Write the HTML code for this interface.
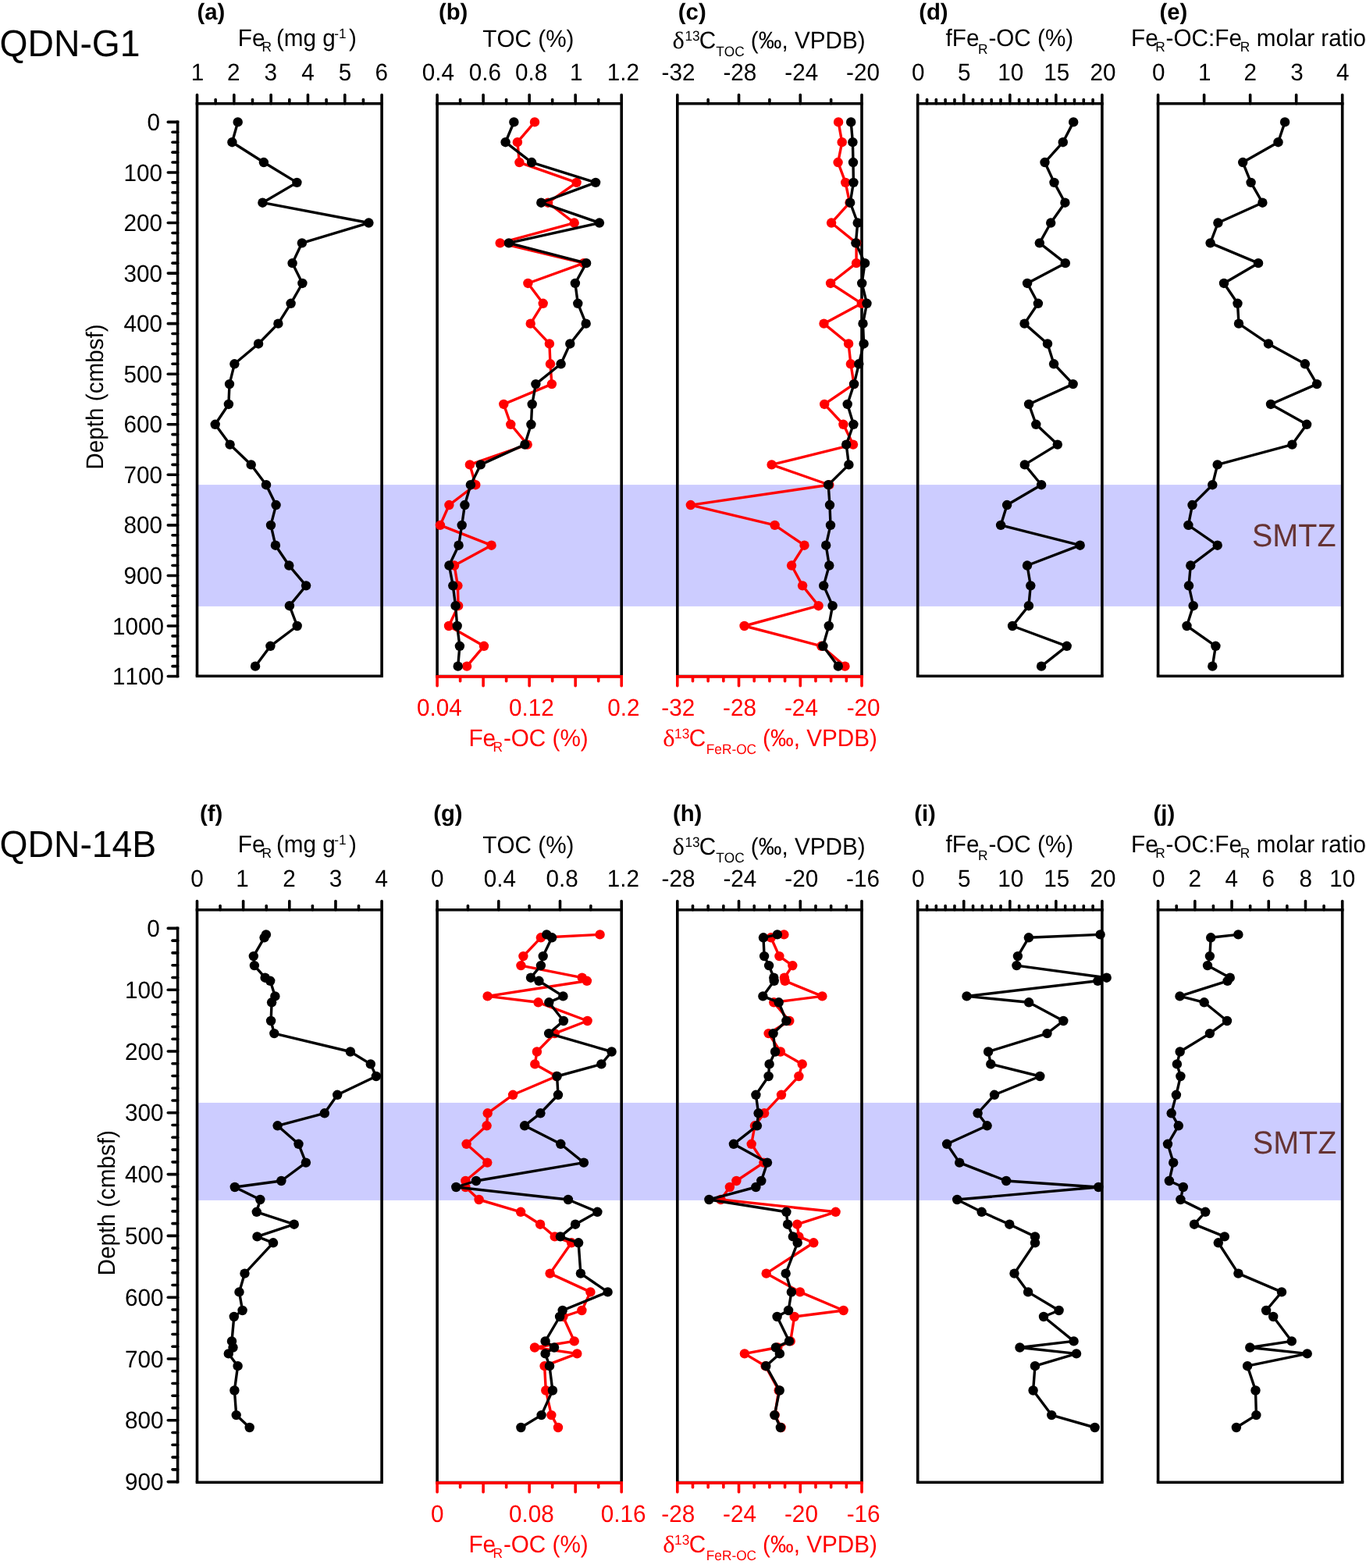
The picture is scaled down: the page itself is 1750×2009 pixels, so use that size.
<!DOCTYPE html><html><head><meta charset="utf-8"><title>QDN-G1 and QDN-14B profiles</title><style>html,body{margin:0;padding:0;background:#fff}svg{display:block}text{font-family:"Liberation Sans",Arial,sans-serif;font-kerning:none;text-rendering:geometricPrecision}</style></head><body>
<svg width="1750" height="2009" viewBox="0 0 1750 2009">
<rect x="0" y="0" width="1750" height="2009" fill="#fff"/>
<rect x="252.50" y="621.1" width="1467.20" height="155.8" fill="#ccccff"/>
<rect x="252.50" y="1412.9" width="1467.20" height="125.0" fill="#ccccff"/>
<text transform="translate(-0.49,72.00) scale(1.000,1.040)" font-size="46.30" fill="#000">QDN-G1</text>
<text transform="translate(-0.49,1097.60) scale(1.000,1.040)" font-size="46.30" fill="#000">QDN-14B</text>
<line x1="252.50" y1="132.80" x2="252.50" y2="866.20" stroke="#000" stroke-width="3.60" stroke-linecap="butt"/>
<line x1="489.10" y1="132.80" x2="489.10" y2="866.20" stroke="#000" stroke-width="3.60" stroke-linecap="butt"/>
<line x1="250.70" y1="132.80" x2="490.90" y2="132.80" stroke="#000" stroke-width="3.60" stroke-linecap="butt"/>
<line x1="250.70" y1="866.20" x2="490.90" y2="866.20" stroke="#000" stroke-width="3.60" stroke-linecap="butt"/>
<line x1="560.10" y1="132.80" x2="560.10" y2="866.20" stroke="#000" stroke-width="3.60" stroke-linecap="butt"/>
<line x1="796.20" y1="132.80" x2="796.20" y2="866.20" stroke="#000" stroke-width="3.60" stroke-linecap="butt"/>
<line x1="558.30" y1="132.80" x2="798.00" y2="132.80" stroke="#000" stroke-width="3.60" stroke-linecap="butt"/>
<line x1="558.30" y1="866.45" x2="798.00" y2="866.45" stroke="#000" stroke-width="3.60" stroke-linecap="butt"/>
<line x1="558.30" y1="866.90" x2="798.00" y2="866.90" stroke="#ff0000" stroke-width="3.60" stroke-linecap="butt"/>
<line x1="867.80" y1="132.80" x2="867.80" y2="866.20" stroke="#000" stroke-width="3.60" stroke-linecap="butt"/>
<line x1="1104.00" y1="132.80" x2="1104.00" y2="866.20" stroke="#000" stroke-width="3.60" stroke-linecap="butt"/>
<line x1="866.00" y1="132.80" x2="1105.80" y2="132.80" stroke="#000" stroke-width="3.60" stroke-linecap="butt"/>
<line x1="866.00" y1="866.45" x2="1105.80" y2="866.45" stroke="#000" stroke-width="3.60" stroke-linecap="butt"/>
<line x1="866.00" y1="866.90" x2="1105.80" y2="866.90" stroke="#ff0000" stroke-width="3.60" stroke-linecap="butt"/>
<line x1="1175.70" y1="132.80" x2="1175.70" y2="866.20" stroke="#000" stroke-width="3.60" stroke-linecap="butt"/>
<line x1="1411.90" y1="132.80" x2="1411.90" y2="866.20" stroke="#000" stroke-width="3.60" stroke-linecap="butt"/>
<line x1="1173.90" y1="132.80" x2="1413.70" y2="132.80" stroke="#000" stroke-width="3.60" stroke-linecap="butt"/>
<line x1="1173.90" y1="866.20" x2="1413.70" y2="866.20" stroke="#000" stroke-width="3.60" stroke-linecap="butt"/>
<line x1="1483.60" y1="132.80" x2="1483.60" y2="866.20" stroke="#000" stroke-width="3.60" stroke-linecap="butt"/>
<line x1="1719.70" y1="132.80" x2="1719.70" y2="866.20" stroke="#000" stroke-width="3.60" stroke-linecap="butt"/>
<line x1="1481.80" y1="132.80" x2="1721.50" y2="132.80" stroke="#000" stroke-width="3.60" stroke-linecap="butt"/>
<line x1="1481.80" y1="866.20" x2="1721.50" y2="866.20" stroke="#000" stroke-width="3.60" stroke-linecap="butt"/>
<line x1="252.50" y1="1165.80" x2="252.50" y2="1899.20" stroke="#000" stroke-width="3.60" stroke-linecap="butt"/>
<line x1="489.10" y1="1165.80" x2="489.10" y2="1899.20" stroke="#000" stroke-width="3.60" stroke-linecap="butt"/>
<line x1="250.70" y1="1165.80" x2="490.90" y2="1165.80" stroke="#000" stroke-width="3.60" stroke-linecap="butt"/>
<line x1="250.70" y1="1899.20" x2="490.90" y2="1899.20" stroke="#000" stroke-width="3.60" stroke-linecap="butt"/>
<line x1="560.10" y1="1165.80" x2="560.10" y2="1899.20" stroke="#000" stroke-width="3.60" stroke-linecap="butt"/>
<line x1="796.20" y1="1165.80" x2="796.20" y2="1899.20" stroke="#000" stroke-width="3.60" stroke-linecap="butt"/>
<line x1="558.30" y1="1165.80" x2="798.00" y2="1165.80" stroke="#000" stroke-width="3.60" stroke-linecap="butt"/>
<line x1="558.30" y1="1899.45" x2="798.00" y2="1899.45" stroke="#000" stroke-width="3.60" stroke-linecap="butt"/>
<line x1="558.30" y1="1899.90" x2="798.00" y2="1899.90" stroke="#ff0000" stroke-width="3.60" stroke-linecap="butt"/>
<line x1="867.80" y1="1165.80" x2="867.80" y2="1899.20" stroke="#000" stroke-width="3.60" stroke-linecap="butt"/>
<line x1="1104.00" y1="1165.80" x2="1104.00" y2="1899.20" stroke="#000" stroke-width="3.60" stroke-linecap="butt"/>
<line x1="866.00" y1="1165.80" x2="1105.80" y2="1165.80" stroke="#000" stroke-width="3.60" stroke-linecap="butt"/>
<line x1="866.00" y1="1899.45" x2="1105.80" y2="1899.45" stroke="#000" stroke-width="3.60" stroke-linecap="butt"/>
<line x1="866.00" y1="1899.90" x2="1105.80" y2="1899.90" stroke="#ff0000" stroke-width="3.60" stroke-linecap="butt"/>
<line x1="1175.70" y1="1165.80" x2="1175.70" y2="1899.20" stroke="#000" stroke-width="3.60" stroke-linecap="butt"/>
<line x1="1411.90" y1="1165.80" x2="1411.90" y2="1899.20" stroke="#000" stroke-width="3.60" stroke-linecap="butt"/>
<line x1="1173.90" y1="1165.80" x2="1413.70" y2="1165.80" stroke="#000" stroke-width="3.60" stroke-linecap="butt"/>
<line x1="1173.90" y1="1899.20" x2="1413.70" y2="1899.20" stroke="#000" stroke-width="3.60" stroke-linecap="butt"/>
<line x1="1483.60" y1="1165.80" x2="1483.60" y2="1899.20" stroke="#000" stroke-width="3.60" stroke-linecap="butt"/>
<line x1="1719.70" y1="1165.80" x2="1719.70" y2="1899.20" stroke="#000" stroke-width="3.60" stroke-linecap="butt"/>
<line x1="1481.80" y1="1165.80" x2="1721.50" y2="1165.80" stroke="#000" stroke-width="3.60" stroke-linecap="butt"/>
<line x1="1481.80" y1="1899.20" x2="1721.50" y2="1899.20" stroke="#000" stroke-width="3.60" stroke-linecap="butt"/>
<line x1="227.60" y1="154.60" x2="227.60" y2="868.36" stroke="#000" stroke-width="3.60" stroke-linecap="butt"/>
<line x1="215.30" y1="156.40" x2="227.60" y2="156.40" stroke="#000" stroke-width="3.60" stroke-linecap="round"/>
<text transform="translate(188.44,167.00) scale(1.000,1.040)" font-size="29.70" fill="#000">0</text>
<line x1="221.00" y1="169.31" x2="227.60" y2="169.31" stroke="#000" stroke-width="3.60" stroke-linecap="round"/>
<line x1="221.00" y1="182.22" x2="227.60" y2="182.22" stroke="#000" stroke-width="3.60" stroke-linecap="round"/>
<line x1="221.00" y1="195.14" x2="227.60" y2="195.14" stroke="#000" stroke-width="3.60" stroke-linecap="round"/>
<line x1="221.00" y1="208.05" x2="227.60" y2="208.05" stroke="#000" stroke-width="3.60" stroke-linecap="round"/>
<line x1="215.30" y1="220.96" x2="227.60" y2="220.96" stroke="#000" stroke-width="3.60" stroke-linecap="round"/>
<text transform="translate(158.51,231.56) scale(1.000,1.040)" font-size="29.70" fill="#000">100</text>
<line x1="221.00" y1="233.87" x2="227.60" y2="233.87" stroke="#000" stroke-width="3.60" stroke-linecap="round"/>
<line x1="221.00" y1="246.78" x2="227.60" y2="246.78" stroke="#000" stroke-width="3.60" stroke-linecap="round"/>
<line x1="221.00" y1="259.70" x2="227.60" y2="259.70" stroke="#000" stroke-width="3.60" stroke-linecap="round"/>
<line x1="221.00" y1="272.61" x2="227.60" y2="272.61" stroke="#000" stroke-width="3.60" stroke-linecap="round"/>
<line x1="215.30" y1="285.52" x2="227.60" y2="285.52" stroke="#000" stroke-width="3.60" stroke-linecap="round"/>
<text transform="translate(158.51,296.12) scale(1.000,1.040)" font-size="29.70" fill="#000">200</text>
<line x1="221.00" y1="298.43" x2="227.60" y2="298.43" stroke="#000" stroke-width="3.60" stroke-linecap="round"/>
<line x1="221.00" y1="311.34" x2="227.60" y2="311.34" stroke="#000" stroke-width="3.60" stroke-linecap="round"/>
<line x1="221.00" y1="324.26" x2="227.60" y2="324.26" stroke="#000" stroke-width="3.60" stroke-linecap="round"/>
<line x1="221.00" y1="337.17" x2="227.60" y2="337.17" stroke="#000" stroke-width="3.60" stroke-linecap="round"/>
<line x1="215.30" y1="350.08" x2="227.60" y2="350.08" stroke="#000" stroke-width="3.60" stroke-linecap="round"/>
<text transform="translate(158.51,360.68) scale(1.000,1.040)" font-size="29.70" fill="#000">300</text>
<line x1="221.00" y1="362.99" x2="227.60" y2="362.99" stroke="#000" stroke-width="3.60" stroke-linecap="round"/>
<line x1="221.00" y1="375.90" x2="227.60" y2="375.90" stroke="#000" stroke-width="3.60" stroke-linecap="round"/>
<line x1="221.00" y1="388.82" x2="227.60" y2="388.82" stroke="#000" stroke-width="3.60" stroke-linecap="round"/>
<line x1="221.00" y1="401.73" x2="227.60" y2="401.73" stroke="#000" stroke-width="3.60" stroke-linecap="round"/>
<line x1="215.30" y1="414.64" x2="227.60" y2="414.64" stroke="#000" stroke-width="3.60" stroke-linecap="round"/>
<text transform="translate(158.51,425.24) scale(1.000,1.040)" font-size="29.70" fill="#000">400</text>
<line x1="221.00" y1="427.55" x2="227.60" y2="427.55" stroke="#000" stroke-width="3.60" stroke-linecap="round"/>
<line x1="221.00" y1="440.46" x2="227.60" y2="440.46" stroke="#000" stroke-width="3.60" stroke-linecap="round"/>
<line x1="221.00" y1="453.38" x2="227.60" y2="453.38" stroke="#000" stroke-width="3.60" stroke-linecap="round"/>
<line x1="221.00" y1="466.29" x2="227.60" y2="466.29" stroke="#000" stroke-width="3.60" stroke-linecap="round"/>
<line x1="215.30" y1="479.20" x2="227.60" y2="479.20" stroke="#000" stroke-width="3.60" stroke-linecap="round"/>
<text transform="translate(158.51,489.80) scale(1.000,1.040)" font-size="29.70" fill="#000">500</text>
<line x1="221.00" y1="492.11" x2="227.60" y2="492.11" stroke="#000" stroke-width="3.60" stroke-linecap="round"/>
<line x1="221.00" y1="505.02" x2="227.60" y2="505.02" stroke="#000" stroke-width="3.60" stroke-linecap="round"/>
<line x1="221.00" y1="517.94" x2="227.60" y2="517.94" stroke="#000" stroke-width="3.60" stroke-linecap="round"/>
<line x1="221.00" y1="530.85" x2="227.60" y2="530.85" stroke="#000" stroke-width="3.60" stroke-linecap="round"/>
<line x1="215.30" y1="543.76" x2="227.60" y2="543.76" stroke="#000" stroke-width="3.60" stroke-linecap="round"/>
<text transform="translate(158.51,554.36) scale(1.000,1.040)" font-size="29.70" fill="#000">600</text>
<line x1="221.00" y1="556.67" x2="227.60" y2="556.67" stroke="#000" stroke-width="3.60" stroke-linecap="round"/>
<line x1="221.00" y1="569.58" x2="227.60" y2="569.58" stroke="#000" stroke-width="3.60" stroke-linecap="round"/>
<line x1="221.00" y1="582.50" x2="227.60" y2="582.50" stroke="#000" stroke-width="3.60" stroke-linecap="round"/>
<line x1="221.00" y1="595.41" x2="227.60" y2="595.41" stroke="#000" stroke-width="3.60" stroke-linecap="round"/>
<line x1="215.30" y1="608.32" x2="227.60" y2="608.32" stroke="#000" stroke-width="3.60" stroke-linecap="round"/>
<text transform="translate(158.51,618.92) scale(1.000,1.040)" font-size="29.70" fill="#000">700</text>
<line x1="221.00" y1="621.23" x2="227.60" y2="621.23" stroke="#000" stroke-width="3.60" stroke-linecap="round"/>
<line x1="221.00" y1="634.14" x2="227.60" y2="634.14" stroke="#000" stroke-width="3.60" stroke-linecap="round"/>
<line x1="221.00" y1="647.06" x2="227.60" y2="647.06" stroke="#000" stroke-width="3.60" stroke-linecap="round"/>
<line x1="221.00" y1="659.97" x2="227.60" y2="659.97" stroke="#000" stroke-width="3.60" stroke-linecap="round"/>
<line x1="215.30" y1="672.88" x2="227.60" y2="672.88" stroke="#000" stroke-width="3.60" stroke-linecap="round"/>
<text transform="translate(158.51,683.48) scale(1.000,1.040)" font-size="29.70" fill="#000">800</text>
<line x1="221.00" y1="685.79" x2="227.60" y2="685.79" stroke="#000" stroke-width="3.60" stroke-linecap="round"/>
<line x1="221.00" y1="698.70" x2="227.60" y2="698.70" stroke="#000" stroke-width="3.60" stroke-linecap="round"/>
<line x1="221.00" y1="711.62" x2="227.60" y2="711.62" stroke="#000" stroke-width="3.60" stroke-linecap="round"/>
<line x1="221.00" y1="724.53" x2="227.60" y2="724.53" stroke="#000" stroke-width="3.60" stroke-linecap="round"/>
<line x1="215.30" y1="737.44" x2="227.60" y2="737.44" stroke="#000" stroke-width="3.60" stroke-linecap="round"/>
<text transform="translate(158.51,748.04) scale(1.000,1.040)" font-size="29.70" fill="#000">900</text>
<line x1="221.00" y1="750.35" x2="227.60" y2="750.35" stroke="#000" stroke-width="3.60" stroke-linecap="round"/>
<line x1="221.00" y1="763.26" x2="227.60" y2="763.26" stroke="#000" stroke-width="3.60" stroke-linecap="round"/>
<line x1="221.00" y1="776.18" x2="227.60" y2="776.18" stroke="#000" stroke-width="3.60" stroke-linecap="round"/>
<line x1="221.00" y1="789.09" x2="227.60" y2="789.09" stroke="#000" stroke-width="3.60" stroke-linecap="round"/>
<line x1="215.30" y1="802.00" x2="227.60" y2="802.00" stroke="#000" stroke-width="3.60" stroke-linecap="round"/>
<text transform="translate(143.99,812.60) scale(1.000,1.040)" font-size="29.70" fill="#000">1000</text>
<line x1="221.00" y1="814.91" x2="227.60" y2="814.91" stroke="#000" stroke-width="3.60" stroke-linecap="round"/>
<line x1="221.00" y1="827.82" x2="227.60" y2="827.82" stroke="#000" stroke-width="3.60" stroke-linecap="round"/>
<line x1="221.00" y1="840.74" x2="227.60" y2="840.74" stroke="#000" stroke-width="3.60" stroke-linecap="round"/>
<line x1="221.00" y1="853.65" x2="227.60" y2="853.65" stroke="#000" stroke-width="3.60" stroke-linecap="round"/>
<line x1="215.30" y1="866.56" x2="227.60" y2="866.56" stroke="#000" stroke-width="3.60" stroke-linecap="round"/>
<text transform="translate(143.99,877.16) scale(1.000,1.040)" font-size="29.70" fill="#000">1100</text>
<line x1="227.60" y1="1187.60" x2="227.60" y2="1900.40" stroke="#000" stroke-width="3.60" stroke-linecap="butt"/>
<line x1="215.30" y1="1189.40" x2="227.60" y2="1189.40" stroke="#000" stroke-width="3.60" stroke-linecap="round"/>
<text transform="translate(188.24,1200.00) scale(1.000,1.040)" font-size="29.70" fill="#000">0</text>
<line x1="221.00" y1="1205.16" x2="227.60" y2="1205.16" stroke="#000" stroke-width="3.60" stroke-linecap="round"/>
<line x1="221.00" y1="1220.92" x2="227.60" y2="1220.92" stroke="#000" stroke-width="3.60" stroke-linecap="round"/>
<line x1="221.00" y1="1236.68" x2="227.60" y2="1236.68" stroke="#000" stroke-width="3.60" stroke-linecap="round"/>
<line x1="221.00" y1="1252.44" x2="227.60" y2="1252.44" stroke="#000" stroke-width="3.60" stroke-linecap="round"/>
<line x1="215.30" y1="1268.20" x2="227.60" y2="1268.20" stroke="#000" stroke-width="3.60" stroke-linecap="round"/>
<text transform="translate(159.91,1278.80) scale(1.000,1.040)" font-size="29.70" fill="#000">100</text>
<line x1="221.00" y1="1283.96" x2="227.60" y2="1283.96" stroke="#000" stroke-width="3.60" stroke-linecap="round"/>
<line x1="221.00" y1="1299.72" x2="227.60" y2="1299.72" stroke="#000" stroke-width="3.60" stroke-linecap="round"/>
<line x1="221.00" y1="1315.48" x2="227.60" y2="1315.48" stroke="#000" stroke-width="3.60" stroke-linecap="round"/>
<line x1="221.00" y1="1331.24" x2="227.60" y2="1331.24" stroke="#000" stroke-width="3.60" stroke-linecap="round"/>
<line x1="215.30" y1="1347.00" x2="227.60" y2="1347.00" stroke="#000" stroke-width="3.60" stroke-linecap="round"/>
<text transform="translate(159.91,1357.60) scale(1.000,1.040)" font-size="29.70" fill="#000">200</text>
<line x1="221.00" y1="1362.76" x2="227.60" y2="1362.76" stroke="#000" stroke-width="3.60" stroke-linecap="round"/>
<line x1="221.00" y1="1378.52" x2="227.60" y2="1378.52" stroke="#000" stroke-width="3.60" stroke-linecap="round"/>
<line x1="221.00" y1="1394.28" x2="227.60" y2="1394.28" stroke="#000" stroke-width="3.60" stroke-linecap="round"/>
<line x1="221.00" y1="1410.04" x2="227.60" y2="1410.04" stroke="#000" stroke-width="3.60" stroke-linecap="round"/>
<line x1="215.30" y1="1425.80" x2="227.60" y2="1425.80" stroke="#000" stroke-width="3.60" stroke-linecap="round"/>
<text transform="translate(159.91,1436.40) scale(1.000,1.040)" font-size="29.70" fill="#000">300</text>
<line x1="221.00" y1="1441.56" x2="227.60" y2="1441.56" stroke="#000" stroke-width="3.60" stroke-linecap="round"/>
<line x1="221.00" y1="1457.32" x2="227.60" y2="1457.32" stroke="#000" stroke-width="3.60" stroke-linecap="round"/>
<line x1="221.00" y1="1473.08" x2="227.60" y2="1473.08" stroke="#000" stroke-width="3.60" stroke-linecap="round"/>
<line x1="221.00" y1="1488.84" x2="227.60" y2="1488.84" stroke="#000" stroke-width="3.60" stroke-linecap="round"/>
<line x1="215.30" y1="1504.60" x2="227.60" y2="1504.60" stroke="#000" stroke-width="3.60" stroke-linecap="round"/>
<text transform="translate(159.91,1515.20) scale(1.000,1.040)" font-size="29.70" fill="#000">400</text>
<line x1="221.00" y1="1520.36" x2="227.60" y2="1520.36" stroke="#000" stroke-width="3.60" stroke-linecap="round"/>
<line x1="221.00" y1="1536.12" x2="227.60" y2="1536.12" stroke="#000" stroke-width="3.60" stroke-linecap="round"/>
<line x1="221.00" y1="1551.88" x2="227.60" y2="1551.88" stroke="#000" stroke-width="3.60" stroke-linecap="round"/>
<line x1="221.00" y1="1567.64" x2="227.60" y2="1567.64" stroke="#000" stroke-width="3.60" stroke-linecap="round"/>
<line x1="215.30" y1="1583.40" x2="227.60" y2="1583.40" stroke="#000" stroke-width="3.60" stroke-linecap="round"/>
<text transform="translate(159.91,1594.00) scale(1.000,1.040)" font-size="29.70" fill="#000">500</text>
<line x1="221.00" y1="1599.16" x2="227.60" y2="1599.16" stroke="#000" stroke-width="3.60" stroke-linecap="round"/>
<line x1="221.00" y1="1614.92" x2="227.60" y2="1614.92" stroke="#000" stroke-width="3.60" stroke-linecap="round"/>
<line x1="221.00" y1="1630.68" x2="227.60" y2="1630.68" stroke="#000" stroke-width="3.60" stroke-linecap="round"/>
<line x1="221.00" y1="1646.44" x2="227.60" y2="1646.44" stroke="#000" stroke-width="3.60" stroke-linecap="round"/>
<line x1="215.30" y1="1662.20" x2="227.60" y2="1662.20" stroke="#000" stroke-width="3.60" stroke-linecap="round"/>
<text transform="translate(159.91,1672.80) scale(1.000,1.040)" font-size="29.70" fill="#000">600</text>
<line x1="221.00" y1="1677.96" x2="227.60" y2="1677.96" stroke="#000" stroke-width="3.60" stroke-linecap="round"/>
<line x1="221.00" y1="1693.72" x2="227.60" y2="1693.72" stroke="#000" stroke-width="3.60" stroke-linecap="round"/>
<line x1="221.00" y1="1709.48" x2="227.60" y2="1709.48" stroke="#000" stroke-width="3.60" stroke-linecap="round"/>
<line x1="221.00" y1="1725.24" x2="227.60" y2="1725.24" stroke="#000" stroke-width="3.60" stroke-linecap="round"/>
<line x1="215.30" y1="1741.00" x2="227.60" y2="1741.00" stroke="#000" stroke-width="3.60" stroke-linecap="round"/>
<text transform="translate(159.91,1751.60) scale(1.000,1.040)" font-size="29.70" fill="#000">700</text>
<line x1="221.00" y1="1756.76" x2="227.60" y2="1756.76" stroke="#000" stroke-width="3.60" stroke-linecap="round"/>
<line x1="221.00" y1="1772.52" x2="227.60" y2="1772.52" stroke="#000" stroke-width="3.60" stroke-linecap="round"/>
<line x1="221.00" y1="1788.28" x2="227.60" y2="1788.28" stroke="#000" stroke-width="3.60" stroke-linecap="round"/>
<line x1="221.00" y1="1804.04" x2="227.60" y2="1804.04" stroke="#000" stroke-width="3.60" stroke-linecap="round"/>
<line x1="215.30" y1="1819.80" x2="227.60" y2="1819.80" stroke="#000" stroke-width="3.60" stroke-linecap="round"/>
<text transform="translate(159.91,1830.40) scale(1.000,1.040)" font-size="29.70" fill="#000">800</text>
<line x1="221.00" y1="1835.56" x2="227.60" y2="1835.56" stroke="#000" stroke-width="3.60" stroke-linecap="round"/>
<line x1="221.00" y1="1851.32" x2="227.60" y2="1851.32" stroke="#000" stroke-width="3.60" stroke-linecap="round"/>
<line x1="221.00" y1="1867.08" x2="227.60" y2="1867.08" stroke="#000" stroke-width="3.60" stroke-linecap="round"/>
<line x1="221.00" y1="1882.84" x2="227.60" y2="1882.84" stroke="#000" stroke-width="3.60" stroke-linecap="round"/>
<line x1="215.30" y1="1898.60" x2="227.60" y2="1898.60" stroke="#000" stroke-width="3.60" stroke-linecap="round"/>
<text transform="translate(159.91,1909.20) scale(1.000,1.040)" font-size="29.70" fill="#000">900</text>
<text transform="translate(131.7,508.5) rotate(-90) scale(1,1.040)" text-anchor="middle" font-size="29.70">Depth (cmbsf)</text>
<text transform="translate(146.8,1541.3) rotate(-90) scale(1,1.040)" text-anchor="middle" font-size="29.70">Depth (cmbsf)</text>
<line x1="252.50" y1="132.80" x2="252.50" y2="121.50" stroke="#000" stroke-width="3.60" stroke-linecap="round"/>
<line x1="276.16" y1="132.80" x2="276.16" y2="127.50" stroke="#000" stroke-width="3.60" stroke-linecap="round"/>
<line x1="299.82" y1="132.80" x2="299.82" y2="121.50" stroke="#000" stroke-width="3.60" stroke-linecap="round"/>
<line x1="323.48" y1="132.80" x2="323.48" y2="127.50" stroke="#000" stroke-width="3.60" stroke-linecap="round"/>
<line x1="347.14" y1="132.80" x2="347.14" y2="121.50" stroke="#000" stroke-width="3.60" stroke-linecap="round"/>
<line x1="370.80" y1="132.80" x2="370.80" y2="127.50" stroke="#000" stroke-width="3.60" stroke-linecap="round"/>
<line x1="394.46" y1="132.80" x2="394.46" y2="121.50" stroke="#000" stroke-width="3.60" stroke-linecap="round"/>
<line x1="418.12" y1="132.80" x2="418.12" y2="127.50" stroke="#000" stroke-width="3.60" stroke-linecap="round"/>
<line x1="441.78" y1="132.80" x2="441.78" y2="121.50" stroke="#000" stroke-width="3.60" stroke-linecap="round"/>
<line x1="465.44" y1="132.80" x2="465.44" y2="127.50" stroke="#000" stroke-width="3.60" stroke-linecap="round"/>
<line x1="489.10" y1="132.80" x2="489.10" y2="121.50" stroke="#000" stroke-width="3.60" stroke-linecap="round"/>
<text transform="translate(244.76,102.90) scale(1.000,1.040)" font-size="29.70" fill="#000">1</text>
<text transform="translate(291.11,102.90) scale(1.000,1.040)" font-size="29.70" fill="#000">2</text>
<text transform="translate(338.57,102.90) scale(1.000,1.040)" font-size="29.70" fill="#000">3</text>
<text transform="translate(386.22,102.90) scale(1.000,1.040)" font-size="29.70" fill="#000">4</text>
<text transform="translate(433.71,102.90) scale(1.000,1.040)" font-size="29.70" fill="#000">5</text>
<text transform="translate(480.49,102.90) scale(1.000,1.040)" font-size="29.70" fill="#000">6</text>
<line x1="560.10" y1="132.80" x2="560.10" y2="121.50" stroke="#000" stroke-width="3.60" stroke-linecap="round"/>
<line x1="589.61" y1="132.80" x2="589.61" y2="127.50" stroke="#000" stroke-width="3.60" stroke-linecap="round"/>
<line x1="619.12" y1="132.80" x2="619.12" y2="121.50" stroke="#000" stroke-width="3.60" stroke-linecap="round"/>
<line x1="648.64" y1="132.80" x2="648.64" y2="127.50" stroke="#000" stroke-width="3.60" stroke-linecap="round"/>
<line x1="678.15" y1="132.80" x2="678.15" y2="121.50" stroke="#000" stroke-width="3.60" stroke-linecap="round"/>
<line x1="707.66" y1="132.80" x2="707.66" y2="127.50" stroke="#000" stroke-width="3.60" stroke-linecap="round"/>
<line x1="737.17" y1="132.80" x2="737.17" y2="121.50" stroke="#000" stroke-width="3.60" stroke-linecap="round"/>
<line x1="766.69" y1="132.80" x2="766.69" y2="127.50" stroke="#000" stroke-width="3.60" stroke-linecap="round"/>
<line x1="796.20" y1="132.80" x2="796.20" y2="121.50" stroke="#000" stroke-width="3.60" stroke-linecap="round"/>
<text transform="translate(540.84,102.90) scale(1.000,1.040)" font-size="29.70" fill="#000">0.4</text>
<text transform="translate(600.84,102.90) scale(1.000,1.040)" font-size="29.70" fill="#000">0.6</text>
<text transform="translate(659.94,102.90) scale(1.000,1.040)" font-size="29.70" fill="#000">0.8</text>
<text transform="translate(729.96,102.90) scale(1.000,1.040)" font-size="29.70" fill="#000">1</text>
<text transform="translate(777.86,102.90) scale(1.000,1.040)" font-size="29.70" fill="#000">1.2</text>
<line x1="867.80" y1="132.80" x2="867.80" y2="121.50" stroke="#000" stroke-width="3.60" stroke-linecap="round"/>
<line x1="907.17" y1="132.80" x2="907.17" y2="127.50" stroke="#000" stroke-width="3.60" stroke-linecap="round"/>
<line x1="946.53" y1="132.80" x2="946.53" y2="121.50" stroke="#000" stroke-width="3.60" stroke-linecap="round"/>
<line x1="985.90" y1="132.80" x2="985.90" y2="127.50" stroke="#000" stroke-width="3.60" stroke-linecap="round"/>
<line x1="1025.27" y1="132.80" x2="1025.27" y2="121.50" stroke="#000" stroke-width="3.60" stroke-linecap="round"/>
<line x1="1064.63" y1="132.80" x2="1064.63" y2="127.50" stroke="#000" stroke-width="3.60" stroke-linecap="round"/>
<line x1="1104.00" y1="132.80" x2="1104.00" y2="121.50" stroke="#000" stroke-width="3.60" stroke-linecap="round"/>
<text transform="translate(847.58,102.90) scale(1.000,1.040)" font-size="29.70" fill="#000">-32</text>
<text transform="translate(926.38,102.90) scale(1.000,1.040)" font-size="29.70" fill="#000">-28</text>
<text transform="translate(1005.28,102.90) scale(1.000,1.040)" font-size="29.70" fill="#000">-24</text>
<text transform="translate(1084.08,102.90) scale(1.000,1.040)" font-size="29.70" fill="#000">-20</text>
<line x1="1175.70" y1="132.80" x2="1175.70" y2="121.50" stroke="#000" stroke-width="3.60" stroke-linecap="round"/>
<line x1="1187.51" y1="132.80" x2="1187.51" y2="127.50" stroke="#000" stroke-width="3.60" stroke-linecap="round"/>
<line x1="1199.32" y1="132.80" x2="1199.32" y2="127.50" stroke="#000" stroke-width="3.60" stroke-linecap="round"/>
<line x1="1211.13" y1="132.80" x2="1211.13" y2="127.50" stroke="#000" stroke-width="3.60" stroke-linecap="round"/>
<line x1="1222.94" y1="132.80" x2="1222.94" y2="127.50" stroke="#000" stroke-width="3.60" stroke-linecap="round"/>
<line x1="1234.75" y1="132.80" x2="1234.75" y2="121.50" stroke="#000" stroke-width="3.60" stroke-linecap="round"/>
<line x1="1246.56" y1="132.80" x2="1246.56" y2="127.50" stroke="#000" stroke-width="3.60" stroke-linecap="round"/>
<line x1="1258.37" y1="132.80" x2="1258.37" y2="127.50" stroke="#000" stroke-width="3.60" stroke-linecap="round"/>
<line x1="1270.18" y1="132.80" x2="1270.18" y2="127.50" stroke="#000" stroke-width="3.60" stroke-linecap="round"/>
<line x1="1281.99" y1="132.80" x2="1281.99" y2="127.50" stroke="#000" stroke-width="3.60" stroke-linecap="round"/>
<line x1="1293.80" y1="132.80" x2="1293.80" y2="121.50" stroke="#000" stroke-width="3.60" stroke-linecap="round"/>
<line x1="1305.61" y1="132.80" x2="1305.61" y2="127.50" stroke="#000" stroke-width="3.60" stroke-linecap="round"/>
<line x1="1317.42" y1="132.80" x2="1317.42" y2="127.50" stroke="#000" stroke-width="3.60" stroke-linecap="round"/>
<line x1="1329.23" y1="132.80" x2="1329.23" y2="127.50" stroke="#000" stroke-width="3.60" stroke-linecap="round"/>
<line x1="1341.04" y1="132.80" x2="1341.04" y2="127.50" stroke="#000" stroke-width="3.60" stroke-linecap="round"/>
<line x1="1352.85" y1="132.80" x2="1352.85" y2="121.50" stroke="#000" stroke-width="3.60" stroke-linecap="round"/>
<line x1="1364.66" y1="132.80" x2="1364.66" y2="127.50" stroke="#000" stroke-width="3.60" stroke-linecap="round"/>
<line x1="1376.47" y1="132.80" x2="1376.47" y2="127.50" stroke="#000" stroke-width="3.60" stroke-linecap="round"/>
<line x1="1388.28" y1="132.80" x2="1388.28" y2="127.50" stroke="#000" stroke-width="3.60" stroke-linecap="round"/>
<line x1="1400.09" y1="132.80" x2="1400.09" y2="127.50" stroke="#000" stroke-width="3.60" stroke-linecap="round"/>
<line x1="1411.90" y1="132.80" x2="1411.90" y2="121.50" stroke="#000" stroke-width="3.60" stroke-linecap="round"/>
<text transform="translate(1167.94,102.90) scale(1.000,1.040)" font-size="29.70" fill="#000">0</text>
<text transform="translate(1227.11,102.90) scale(1.000,1.040)" font-size="29.70" fill="#000">5</text>
<text transform="translate(1278.16,102.90) scale(1.000,1.040)" font-size="29.70" fill="#000">10</text>
<text transform="translate(1337.36,102.90) scale(1.000,1.040)" font-size="29.70" fill="#000">15</text>
<text transform="translate(1396.51,102.90) scale(1.000,1.040)" font-size="29.70" fill="#000">20</text>
<line x1="1483.60" y1="132.80" x2="1483.60" y2="121.50" stroke="#000" stroke-width="3.60" stroke-linecap="round"/>
<line x1="1542.62" y1="132.80" x2="1542.62" y2="121.50" stroke="#000" stroke-width="3.60" stroke-linecap="round"/>
<line x1="1601.65" y1="132.80" x2="1601.65" y2="121.50" stroke="#000" stroke-width="3.60" stroke-linecap="round"/>
<line x1="1660.67" y1="132.80" x2="1660.67" y2="121.50" stroke="#000" stroke-width="3.60" stroke-linecap="round"/>
<line x1="1719.70" y1="132.80" x2="1719.70" y2="121.50" stroke="#000" stroke-width="3.60" stroke-linecap="round"/>
<text transform="translate(1476.04,102.90) scale(1.000,1.040)" font-size="29.70" fill="#000">0</text>
<text transform="translate(1535.06,102.90) scale(1.000,1.040)" font-size="29.70" fill="#000">1</text>
<text transform="translate(1593.51,102.90) scale(1.000,1.040)" font-size="29.70" fill="#000">2</text>
<text transform="translate(1653.27,102.90) scale(1.000,1.040)" font-size="29.70" fill="#000">3</text>
<text transform="translate(1712.12,102.90) scale(1.000,1.040)" font-size="29.70" fill="#000">4</text>
<line x1="560.10" y1="866.90" x2="560.10" y2="878.70" stroke="#ff0000" stroke-width="3.60" stroke-linecap="round"/>
<line x1="589.61" y1="866.90" x2="589.61" y2="872.70" stroke="#ff0000" stroke-width="3.60" stroke-linecap="round"/>
<line x1="619.12" y1="866.90" x2="619.12" y2="878.70" stroke="#ff0000" stroke-width="3.60" stroke-linecap="round"/>
<line x1="648.64" y1="866.90" x2="648.64" y2="872.70" stroke="#ff0000" stroke-width="3.60" stroke-linecap="round"/>
<line x1="678.15" y1="866.90" x2="678.15" y2="878.70" stroke="#ff0000" stroke-width="3.60" stroke-linecap="round"/>
<line x1="707.66" y1="866.90" x2="707.66" y2="872.70" stroke="#ff0000" stroke-width="3.60" stroke-linecap="round"/>
<line x1="737.17" y1="866.90" x2="737.17" y2="878.70" stroke="#ff0000" stroke-width="3.60" stroke-linecap="round"/>
<line x1="766.69" y1="866.90" x2="766.69" y2="872.70" stroke="#ff0000" stroke-width="3.60" stroke-linecap="round"/>
<line x1="796.20" y1="866.90" x2="796.20" y2="878.70" stroke="#ff0000" stroke-width="3.60" stroke-linecap="round"/>
<text transform="translate(533.94,917.10) scale(1.000,1.040)" font-size="29.70" fill="#ff0000">0.04</text>
<text transform="translate(651.94,917.10) scale(1.000,1.040)" font-size="29.70" fill="#ff0000">0.12</text>
<text transform="translate(778.24,917.10) scale(1.000,1.040)" font-size="29.70" fill="#ff0000">0.2</text>
<line x1="867.80" y1="866.90" x2="867.80" y2="878.70" stroke="#ff0000" stroke-width="3.60" stroke-linecap="round"/>
<line x1="887.48" y1="866.90" x2="887.48" y2="872.70" stroke="#ff0000" stroke-width="3.60" stroke-linecap="round"/>
<line x1="907.17" y1="866.90" x2="907.17" y2="872.70" stroke="#ff0000" stroke-width="3.60" stroke-linecap="round"/>
<line x1="926.85" y1="866.90" x2="926.85" y2="872.70" stroke="#ff0000" stroke-width="3.60" stroke-linecap="round"/>
<line x1="946.53" y1="866.90" x2="946.53" y2="878.70" stroke="#ff0000" stroke-width="3.60" stroke-linecap="round"/>
<line x1="966.22" y1="866.90" x2="966.22" y2="872.70" stroke="#ff0000" stroke-width="3.60" stroke-linecap="round"/>
<line x1="985.90" y1="866.90" x2="985.90" y2="872.70" stroke="#ff0000" stroke-width="3.60" stroke-linecap="round"/>
<line x1="1005.58" y1="866.90" x2="1005.58" y2="872.70" stroke="#ff0000" stroke-width="3.60" stroke-linecap="round"/>
<line x1="1025.27" y1="866.90" x2="1025.27" y2="878.70" stroke="#ff0000" stroke-width="3.60" stroke-linecap="round"/>
<line x1="1044.95" y1="866.90" x2="1044.95" y2="872.70" stroke="#ff0000" stroke-width="3.60" stroke-linecap="round"/>
<line x1="1064.63" y1="866.90" x2="1064.63" y2="872.70" stroke="#ff0000" stroke-width="3.60" stroke-linecap="round"/>
<line x1="1084.32" y1="866.90" x2="1084.32" y2="872.70" stroke="#ff0000" stroke-width="3.60" stroke-linecap="round"/>
<line x1="1104.00" y1="866.90" x2="1104.00" y2="878.70" stroke="#ff0000" stroke-width="3.60" stroke-linecap="round"/>
<text transform="translate(847.28,917.10) scale(1.000,1.040)" font-size="29.70" fill="#ff0000">-32</text>
<text transform="translate(926.08,917.10) scale(1.000,1.040)" font-size="29.70" fill="#ff0000">-28</text>
<text transform="translate(1004.98,917.10) scale(1.000,1.040)" font-size="29.70" fill="#ff0000">-24</text>
<text transform="translate(1084.68,917.10) scale(1.000,1.040)" font-size="29.70" fill="#ff0000">-20</text>
<line x1="252.50" y1="1165.80" x2="252.50" y2="1154.50" stroke="#000" stroke-width="3.60" stroke-linecap="round"/>
<line x1="282.07" y1="1165.80" x2="282.07" y2="1160.50" stroke="#000" stroke-width="3.60" stroke-linecap="round"/>
<line x1="311.65" y1="1165.80" x2="311.65" y2="1154.50" stroke="#000" stroke-width="3.60" stroke-linecap="round"/>
<line x1="341.23" y1="1165.80" x2="341.23" y2="1160.50" stroke="#000" stroke-width="3.60" stroke-linecap="round"/>
<line x1="370.80" y1="1165.80" x2="370.80" y2="1154.50" stroke="#000" stroke-width="3.60" stroke-linecap="round"/>
<line x1="400.38" y1="1165.80" x2="400.38" y2="1160.50" stroke="#000" stroke-width="3.60" stroke-linecap="round"/>
<line x1="429.95" y1="1165.80" x2="429.95" y2="1154.50" stroke="#000" stroke-width="3.60" stroke-linecap="round"/>
<line x1="459.52" y1="1165.80" x2="459.52" y2="1160.50" stroke="#000" stroke-width="3.60" stroke-linecap="round"/>
<line x1="489.10" y1="1165.80" x2="489.10" y2="1154.50" stroke="#000" stroke-width="3.60" stroke-linecap="round"/>
<text transform="translate(244.24,1135.90) scale(1.000,1.040)" font-size="29.70" fill="#000">0</text>
<text transform="translate(302.16,1135.90) scale(1.000,1.040)" font-size="29.70" fill="#000">1</text>
<text transform="translate(362.21,1135.90) scale(1.000,1.040)" font-size="29.70" fill="#000">2</text>
<text transform="translate(421.77,1135.90) scale(1.000,1.040)" font-size="29.70" fill="#000">3</text>
<text transform="translate(480.42,1135.90) scale(1.000,1.040)" font-size="29.70" fill="#000">4</text>
<line x1="560.10" y1="1165.80" x2="560.10" y2="1154.50" stroke="#000" stroke-width="3.60" stroke-linecap="round"/>
<line x1="599.45" y1="1165.80" x2="599.45" y2="1160.50" stroke="#000" stroke-width="3.60" stroke-linecap="round"/>
<line x1="638.80" y1="1165.80" x2="638.80" y2="1154.50" stroke="#000" stroke-width="3.60" stroke-linecap="round"/>
<line x1="678.15" y1="1165.80" x2="678.15" y2="1160.50" stroke="#000" stroke-width="3.60" stroke-linecap="round"/>
<line x1="717.50" y1="1165.80" x2="717.50" y2="1154.50" stroke="#000" stroke-width="3.60" stroke-linecap="round"/>
<line x1="756.85" y1="1165.80" x2="756.85" y2="1160.50" stroke="#000" stroke-width="3.60" stroke-linecap="round"/>
<line x1="796.20" y1="1165.80" x2="796.20" y2="1154.50" stroke="#000" stroke-width="3.60" stroke-linecap="round"/>
<text transform="translate(551.94,1135.90) scale(1.000,1.040)" font-size="29.70" fill="#000">0</text>
<text transform="translate(619.74,1135.90) scale(1.000,1.040)" font-size="29.70" fill="#000">0.4</text>
<text transform="translate(699.44,1135.90) scale(1.000,1.040)" font-size="29.70" fill="#000">0.8</text>
<text transform="translate(777.86,1135.90) scale(1.000,1.040)" font-size="29.70" fill="#000">1.2</text>
<line x1="867.80" y1="1165.80" x2="867.80" y2="1154.50" stroke="#000" stroke-width="3.60" stroke-linecap="round"/>
<line x1="887.48" y1="1165.80" x2="887.48" y2="1160.50" stroke="#000" stroke-width="3.60" stroke-linecap="round"/>
<line x1="907.17" y1="1165.80" x2="907.17" y2="1160.50" stroke="#000" stroke-width="3.60" stroke-linecap="round"/>
<line x1="926.85" y1="1165.80" x2="926.85" y2="1160.50" stroke="#000" stroke-width="3.60" stroke-linecap="round"/>
<line x1="946.53" y1="1165.80" x2="946.53" y2="1154.50" stroke="#000" stroke-width="3.60" stroke-linecap="round"/>
<line x1="966.22" y1="1165.80" x2="966.22" y2="1160.50" stroke="#000" stroke-width="3.60" stroke-linecap="round"/>
<line x1="985.90" y1="1165.80" x2="985.90" y2="1160.50" stroke="#000" stroke-width="3.60" stroke-linecap="round"/>
<line x1="1005.58" y1="1165.80" x2="1005.58" y2="1160.50" stroke="#000" stroke-width="3.60" stroke-linecap="round"/>
<line x1="1025.27" y1="1165.80" x2="1025.27" y2="1154.50" stroke="#000" stroke-width="3.60" stroke-linecap="round"/>
<line x1="1044.95" y1="1165.80" x2="1044.95" y2="1160.50" stroke="#000" stroke-width="3.60" stroke-linecap="round"/>
<line x1="1064.63" y1="1165.80" x2="1064.63" y2="1160.50" stroke="#000" stroke-width="3.60" stroke-linecap="round"/>
<line x1="1084.32" y1="1165.80" x2="1084.32" y2="1160.50" stroke="#000" stroke-width="3.60" stroke-linecap="round"/>
<line x1="1104.00" y1="1165.80" x2="1104.00" y2="1154.50" stroke="#000" stroke-width="3.60" stroke-linecap="round"/>
<text transform="translate(847.58,1135.90) scale(1.000,1.040)" font-size="29.70" fill="#000">-28</text>
<text transform="translate(926.38,1135.90) scale(1.000,1.040)" font-size="29.70" fill="#000">-24</text>
<text transform="translate(1005.28,1135.90) scale(1.000,1.040)" font-size="29.70" fill="#000">-20</text>
<text transform="translate(1084.08,1135.90) scale(1.000,1.040)" font-size="29.70" fill="#000">-16</text>
<line x1="1175.70" y1="1165.80" x2="1175.70" y2="1154.50" stroke="#000" stroke-width="3.60" stroke-linecap="round"/>
<line x1="1187.51" y1="1165.80" x2="1187.51" y2="1160.50" stroke="#000" stroke-width="3.60" stroke-linecap="round"/>
<line x1="1199.32" y1="1165.80" x2="1199.32" y2="1160.50" stroke="#000" stroke-width="3.60" stroke-linecap="round"/>
<line x1="1211.13" y1="1165.80" x2="1211.13" y2="1160.50" stroke="#000" stroke-width="3.60" stroke-linecap="round"/>
<line x1="1222.94" y1="1165.80" x2="1222.94" y2="1160.50" stroke="#000" stroke-width="3.60" stroke-linecap="round"/>
<line x1="1234.75" y1="1165.80" x2="1234.75" y2="1154.50" stroke="#000" stroke-width="3.60" stroke-linecap="round"/>
<line x1="1246.56" y1="1165.80" x2="1246.56" y2="1160.50" stroke="#000" stroke-width="3.60" stroke-linecap="round"/>
<line x1="1258.37" y1="1165.80" x2="1258.37" y2="1160.50" stroke="#000" stroke-width="3.60" stroke-linecap="round"/>
<line x1="1270.18" y1="1165.80" x2="1270.18" y2="1160.50" stroke="#000" stroke-width="3.60" stroke-linecap="round"/>
<line x1="1281.99" y1="1165.80" x2="1281.99" y2="1160.50" stroke="#000" stroke-width="3.60" stroke-linecap="round"/>
<line x1="1293.80" y1="1165.80" x2="1293.80" y2="1154.50" stroke="#000" stroke-width="3.60" stroke-linecap="round"/>
<line x1="1305.61" y1="1165.80" x2="1305.61" y2="1160.50" stroke="#000" stroke-width="3.60" stroke-linecap="round"/>
<line x1="1317.42" y1="1165.80" x2="1317.42" y2="1160.50" stroke="#000" stroke-width="3.60" stroke-linecap="round"/>
<line x1="1329.23" y1="1165.80" x2="1329.23" y2="1160.50" stroke="#000" stroke-width="3.60" stroke-linecap="round"/>
<line x1="1341.04" y1="1165.80" x2="1341.04" y2="1160.50" stroke="#000" stroke-width="3.60" stroke-linecap="round"/>
<line x1="1352.85" y1="1165.80" x2="1352.85" y2="1154.50" stroke="#000" stroke-width="3.60" stroke-linecap="round"/>
<line x1="1364.66" y1="1165.80" x2="1364.66" y2="1160.50" stroke="#000" stroke-width="3.60" stroke-linecap="round"/>
<line x1="1376.47" y1="1165.80" x2="1376.47" y2="1160.50" stroke="#000" stroke-width="3.60" stroke-linecap="round"/>
<line x1="1388.28" y1="1165.80" x2="1388.28" y2="1160.50" stroke="#000" stroke-width="3.60" stroke-linecap="round"/>
<line x1="1400.09" y1="1165.80" x2="1400.09" y2="1160.50" stroke="#000" stroke-width="3.60" stroke-linecap="round"/>
<line x1="1411.90" y1="1165.80" x2="1411.90" y2="1154.50" stroke="#000" stroke-width="3.60" stroke-linecap="round"/>
<text transform="translate(1167.94,1135.90) scale(1.000,1.040)" font-size="29.70" fill="#000">0</text>
<text transform="translate(1227.11,1135.90) scale(1.000,1.040)" font-size="29.70" fill="#000">5</text>
<text transform="translate(1278.16,1135.90) scale(1.000,1.040)" font-size="29.70" fill="#000">10</text>
<text transform="translate(1337.36,1135.90) scale(1.000,1.040)" font-size="29.70" fill="#000">15</text>
<text transform="translate(1396.51,1135.90) scale(1.000,1.040)" font-size="29.70" fill="#000">20</text>
<line x1="1483.60" y1="1165.80" x2="1483.60" y2="1154.50" stroke="#000" stroke-width="3.60" stroke-linecap="round"/>
<line x1="1507.21" y1="1165.80" x2="1507.21" y2="1160.50" stroke="#000" stroke-width="3.60" stroke-linecap="round"/>
<line x1="1530.82" y1="1165.80" x2="1530.82" y2="1154.50" stroke="#000" stroke-width="3.60" stroke-linecap="round"/>
<line x1="1554.43" y1="1165.80" x2="1554.43" y2="1160.50" stroke="#000" stroke-width="3.60" stroke-linecap="round"/>
<line x1="1578.04" y1="1165.80" x2="1578.04" y2="1154.50" stroke="#000" stroke-width="3.60" stroke-linecap="round"/>
<line x1="1601.65" y1="1165.80" x2="1601.65" y2="1160.50" stroke="#000" stroke-width="3.60" stroke-linecap="round"/>
<line x1="1625.26" y1="1165.80" x2="1625.26" y2="1154.50" stroke="#000" stroke-width="3.60" stroke-linecap="round"/>
<line x1="1648.87" y1="1165.80" x2="1648.87" y2="1160.50" stroke="#000" stroke-width="3.60" stroke-linecap="round"/>
<line x1="1672.48" y1="1165.80" x2="1672.48" y2="1154.50" stroke="#000" stroke-width="3.60" stroke-linecap="round"/>
<line x1="1696.09" y1="1165.80" x2="1696.09" y2="1160.50" stroke="#000" stroke-width="3.60" stroke-linecap="round"/>
<line x1="1719.70" y1="1165.80" x2="1719.70" y2="1154.50" stroke="#000" stroke-width="3.60" stroke-linecap="round"/>
<text transform="translate(1476.04,1135.90) scale(1.000,1.040)" font-size="29.70" fill="#000">0</text>
<text transform="translate(1522.61,1135.90) scale(1.000,1.040)" font-size="29.70" fill="#000">2</text>
<text transform="translate(1569.52,1135.90) scale(1.000,1.040)" font-size="29.70" fill="#000">4</text>
<text transform="translate(1616.49,1135.90) scale(1.000,1.040)" font-size="29.70" fill="#000">6</text>
<text transform="translate(1664.61,1135.90) scale(1.000,1.040)" font-size="29.70" fill="#000">8</text>
<text transform="translate(1703.36,1135.90) scale(1.000,1.040)" font-size="29.70" fill="#000">10</text>
<line x1="560.10" y1="1899.90" x2="560.10" y2="1911.70" stroke="#ff0000" stroke-width="3.60" stroke-linecap="round"/>
<line x1="589.61" y1="1899.90" x2="589.61" y2="1905.70" stroke="#ff0000" stroke-width="3.60" stroke-linecap="round"/>
<line x1="619.12" y1="1899.90" x2="619.12" y2="1911.70" stroke="#ff0000" stroke-width="3.60" stroke-linecap="round"/>
<line x1="648.64" y1="1899.90" x2="648.64" y2="1905.70" stroke="#ff0000" stroke-width="3.60" stroke-linecap="round"/>
<line x1="678.15" y1="1899.90" x2="678.15" y2="1911.70" stroke="#ff0000" stroke-width="3.60" stroke-linecap="round"/>
<line x1="707.66" y1="1899.90" x2="707.66" y2="1905.70" stroke="#ff0000" stroke-width="3.60" stroke-linecap="round"/>
<line x1="737.17" y1="1899.90" x2="737.17" y2="1911.70" stroke="#ff0000" stroke-width="3.60" stroke-linecap="round"/>
<line x1="766.69" y1="1899.90" x2="766.69" y2="1905.70" stroke="#ff0000" stroke-width="3.60" stroke-linecap="round"/>
<line x1="796.20" y1="1899.90" x2="796.20" y2="1911.70" stroke="#ff0000" stroke-width="3.60" stroke-linecap="round"/>
<text transform="translate(551.94,1950.10) scale(1.000,1.040)" font-size="29.70" fill="#ff0000">0</text>
<text transform="translate(651.94,1950.10) scale(1.000,1.040)" font-size="29.70" fill="#ff0000">0.08</text>
<text transform="translate(769.74,1950.10) scale(1.000,1.040)" font-size="29.70" fill="#ff0000">0.16</text>
<line x1="867.80" y1="1899.90" x2="867.80" y2="1911.70" stroke="#ff0000" stroke-width="3.60" stroke-linecap="round"/>
<line x1="887.48" y1="1899.90" x2="887.48" y2="1905.70" stroke="#ff0000" stroke-width="3.60" stroke-linecap="round"/>
<line x1="907.17" y1="1899.90" x2="907.17" y2="1905.70" stroke="#ff0000" stroke-width="3.60" stroke-linecap="round"/>
<line x1="926.85" y1="1899.90" x2="926.85" y2="1905.70" stroke="#ff0000" stroke-width="3.60" stroke-linecap="round"/>
<line x1="946.53" y1="1899.90" x2="946.53" y2="1911.70" stroke="#ff0000" stroke-width="3.60" stroke-linecap="round"/>
<line x1="966.22" y1="1899.90" x2="966.22" y2="1905.70" stroke="#ff0000" stroke-width="3.60" stroke-linecap="round"/>
<line x1="985.90" y1="1899.90" x2="985.90" y2="1905.70" stroke="#ff0000" stroke-width="3.60" stroke-linecap="round"/>
<line x1="1005.58" y1="1899.90" x2="1005.58" y2="1905.70" stroke="#ff0000" stroke-width="3.60" stroke-linecap="round"/>
<line x1="1025.27" y1="1899.90" x2="1025.27" y2="1911.70" stroke="#ff0000" stroke-width="3.60" stroke-linecap="round"/>
<line x1="1044.95" y1="1899.90" x2="1044.95" y2="1905.70" stroke="#ff0000" stroke-width="3.60" stroke-linecap="round"/>
<line x1="1064.63" y1="1899.90" x2="1064.63" y2="1905.70" stroke="#ff0000" stroke-width="3.60" stroke-linecap="round"/>
<line x1="1084.32" y1="1899.90" x2="1084.32" y2="1905.70" stroke="#ff0000" stroke-width="3.60" stroke-linecap="round"/>
<line x1="1104.00" y1="1899.90" x2="1104.00" y2="1911.70" stroke="#ff0000" stroke-width="3.60" stroke-linecap="round"/>
<text transform="translate(847.28,1950.10) scale(1.000,1.040)" font-size="29.70" fill="#ff0000">-28</text>
<text transform="translate(926.08,1950.10) scale(1.000,1.040)" font-size="29.70" fill="#ff0000">-24</text>
<text transform="translate(1004.98,1950.10) scale(1.000,1.040)" font-size="29.70" fill="#ff0000">-20</text>
<text transform="translate(1084.68,1950.10) scale(1.000,1.040)" font-size="29.70" fill="#ff0000">-16</text>
<text transform="translate(252.54,24.60) scale(1.000,1.000)" font-size="29.30" font-weight="bold" fill="#000">(a)</text>
<text transform="translate(561.94,24.60) scale(1.000,1.000)" font-size="29.30" font-weight="bold" fill="#000">(b)</text>
<text transform="translate(868.84,24.60) scale(1.000,1.000)" font-size="29.30" font-weight="bold" fill="#000">(c)</text>
<text transform="translate(1177.14,24.60) scale(1.000,1.000)" font-size="29.30" font-weight="bold" fill="#000">(d)</text>
<text transform="translate(1485.54,24.60) scale(1.000,1.000)" font-size="29.30" font-weight="bold" fill="#000">(e)</text>
<text transform="translate(255.94,1051.70) scale(1.000,1.000)" font-size="29.30" font-weight="bold" fill="#000">(f)</text>
<text transform="translate(555.14,1051.70) scale(1.000,1.000)" font-size="29.30" font-weight="bold" fill="#000">(g)</text>
<text transform="translate(861.94,1051.70) scale(1.000,1.000)" font-size="29.30" font-weight="bold" fill="#000">(h)</text>
<text transform="translate(1171.14,1051.70) scale(1.000,1.000)" font-size="29.30" font-weight="bold" fill="#000">(i)</text>
<text transform="translate(1477.54,1051.70) scale(1.000,1.000)" font-size="29.30" font-weight="bold" fill="#000">(j)</text>
<text transform="translate(304.86,59.10) scale(1.000,1.040)" font-size="29.70" fill="#000">Fe</text>
<text transform="translate(335.58,65.60) scale(1.000,1.040)" font-size="17.30" fill="#000">R</text>
<text transform="translate(353.96,59.10) scale(1.000,1.040)" font-size="29.70" fill="#000">(mg g</text>
<text transform="translate(428.13,48.70) scale(1.000,1.040)" font-size="17.30" fill="#000">-1</text>
<text transform="translate(447.03,59.10) scale(1.000,1.040)" font-size="29.70" fill="#000">)</text>
<text transform="translate(618.33,60.00) scale(1.000,1.040)" font-size="29.70" fill="#000">TOC (%)</text>
<text transform="translate(861.57,62.00) scale(1.100,1.040)" font-size="29.70" style="font-family:'Liberation Serif',serif" fill="#000">δ</text>
<text transform="translate(877.48,51.60) scale(1.000,1.040)" font-size="17.30" fill="#000">13</text>
<text transform="translate(895.69,62.00) scale(1.000,1.040)" font-size="29.70" fill="#000">C</text>
<text transform="translate(917.21,71.60) scale(1.000,1.040)" font-size="17.30" fill="#000">TOC</text>
<text transform="translate(961.86,62.00) scale(1.000,1.040)" font-size="29.70" fill="#000">(‰, VPDB)</text>
<text transform="translate(1211.58,59.10) scale(1.000,1.040)" font-size="29.70" fill="#000">fFe</text>
<text transform="translate(1253.08,68.60) scale(1.000,1.040)" font-size="17.30" fill="#000">R</text>
<text transform="translate(1266.38,59.10) scale(1.000,1.040)" font-size="29.70" fill="#000">-OC (%)</text>
<text transform="translate(1449.06,58.50) scale(1.000,1.040)" font-size="29.70" fill="#000">Fe</text>
<text transform="translate(1480.18,65.50) scale(1.000,1.040)" font-size="17.30" fill="#000">R</text>
<text transform="translate(1493.58,58.50) scale(1.000,1.040)" font-size="29.70" fill="#000">-OC:Fe</text>
<text transform="translate(1588.78,65.50) scale(1.000,1.040)" font-size="17.30" fill="#000">R</text>
<text transform="translate(1609.83,58.50) scale(1.000,1.040)" font-size="29.70" fill="#000">molar ratio</text>
<text transform="translate(600.46,955.70) scale(1.000,1.040)" font-size="29.70" fill="#ff0000">Fe</text>
<text transform="translate(631.48,963.40) scale(1.000,1.040)" font-size="17.30" fill="#ff0000">R</text>
<text transform="translate(644.88,955.70) scale(1.000,1.040)" font-size="29.70" fill="#ff0000">-OC (%)</text>
<text transform="translate(849.37,956.00) scale(1.100,1.040)" font-size="29.70" style="font-family:'Liberation Serif',serif" fill="#ff0000">δ</text>
<text transform="translate(864.08,946.00) scale(1.000,1.040)" font-size="17.30" fill="#ff0000">13</text>
<text transform="translate(882.69,955.80) scale(1.000,1.040)" font-size="29.70" fill="#ff0000">C</text>
<text transform="translate(904.78,966.00) scale(1.000,1.040)" font-size="17.30" fill="#ff0000">FeR-OC</text>
<text transform="translate(977.06,955.80) scale(1.000,1.040)" font-size="29.70" fill="#ff0000">(‰, VPDB)</text>
<text transform="translate(304.86,1092.10) scale(1.000,1.040)" font-size="29.70" fill="#000">Fe</text>
<text transform="translate(335.58,1098.60) scale(1.000,1.040)" font-size="17.30" fill="#000">R</text>
<text transform="translate(353.96,1092.10) scale(1.000,1.040)" font-size="29.70" fill="#000">(mg g</text>
<text transform="translate(428.13,1081.70) scale(1.000,1.040)" font-size="17.30" fill="#000">-1</text>
<text transform="translate(447.03,1092.10) scale(1.000,1.040)" font-size="29.70" fill="#000">)</text>
<text transform="translate(618.33,1093.00) scale(1.000,1.040)" font-size="29.70" fill="#000">TOC (%)</text>
<text transform="translate(861.57,1095.00) scale(1.100,1.040)" font-size="29.70" style="font-family:'Liberation Serif',serif" fill="#000">δ</text>
<text transform="translate(877.48,1084.60) scale(1.000,1.040)" font-size="17.30" fill="#000">13</text>
<text transform="translate(895.69,1095.00) scale(1.000,1.040)" font-size="29.70" fill="#000">C</text>
<text transform="translate(917.21,1104.60) scale(1.000,1.040)" font-size="17.30" fill="#000">TOC</text>
<text transform="translate(961.86,1095.00) scale(1.000,1.040)" font-size="29.70" fill="#000">(‰, VPDB)</text>
<text transform="translate(1211.58,1092.10) scale(1.000,1.040)" font-size="29.70" fill="#000">fFe</text>
<text transform="translate(1253.08,1101.60) scale(1.000,1.040)" font-size="17.30" fill="#000">R</text>
<text transform="translate(1266.38,1092.10) scale(1.000,1.040)" font-size="29.70" fill="#000">-OC (%)</text>
<text transform="translate(1449.06,1091.50) scale(1.000,1.040)" font-size="29.70" fill="#000">Fe</text>
<text transform="translate(1480.18,1098.50) scale(1.000,1.040)" font-size="17.30" fill="#000">R</text>
<text transform="translate(1493.58,1091.50) scale(1.000,1.040)" font-size="29.70" fill="#000">-OC:Fe</text>
<text transform="translate(1588.78,1098.50) scale(1.000,1.040)" font-size="17.30" fill="#000">R</text>
<text transform="translate(1609.83,1091.50) scale(1.000,1.040)" font-size="29.70" fill="#000">molar ratio</text>
<text transform="translate(600.46,1988.70) scale(1.000,1.040)" font-size="29.70" fill="#ff0000">Fe</text>
<text transform="translate(631.48,1996.40) scale(1.000,1.040)" font-size="17.30" fill="#ff0000">R</text>
<text transform="translate(644.88,1988.70) scale(1.000,1.040)" font-size="29.70" fill="#ff0000">-OC (%)</text>
<text transform="translate(849.37,1989.00) scale(1.100,1.040)" font-size="29.70" style="font-family:'Liberation Serif',serif" fill="#ff0000">δ</text>
<text transform="translate(864.08,1979.00) scale(1.000,1.040)" font-size="17.30" fill="#ff0000">13</text>
<text transform="translate(882.69,1988.80) scale(1.000,1.040)" font-size="29.70" fill="#ff0000">C</text>
<text transform="translate(904.78,1999.00) scale(1.000,1.040)" font-size="17.30" fill="#ff0000">FeR-OC</text>
<text transform="translate(977.06,1988.80) scale(1.000,1.040)" font-size="29.70" fill="#ff0000">(‰, VPDB)</text>
<polyline points="304.70,156.40 297.40,182.22 337.90,208.05 380.40,233.87 336.40,259.70 472.40,285.52 386.90,311.34 374.60,337.17 387.40,362.99 372.60,388.82 356.40,414.64 331.10,440.46 300.40,466.29 294.00,492.11 292.90,517.94 275.70,543.76 294.60,569.58 321.70,595.41 341.00,621.23 353.60,647.06 347.00,672.88 352.90,698.70 370.30,724.53 392.10,750.35 370.90,776.18 380.70,802.00 346.40,827.82 327.10,853.65" fill="none" stroke="#000" stroke-width="3.40" stroke-linejoin="round"/>
<circle cx="304.70" cy="156.40" r="6.20" fill="#000"/>
<circle cx="297.40" cy="182.22" r="6.20" fill="#000"/>
<circle cx="337.90" cy="208.05" r="6.20" fill="#000"/>
<circle cx="380.40" cy="233.87" r="6.20" fill="#000"/>
<circle cx="336.40" cy="259.70" r="6.20" fill="#000"/>
<circle cx="472.40" cy="285.52" r="6.20" fill="#000"/>
<circle cx="386.90" cy="311.34" r="6.20" fill="#000"/>
<circle cx="374.60" cy="337.17" r="6.20" fill="#000"/>
<circle cx="387.40" cy="362.99" r="6.20" fill="#000"/>
<circle cx="372.60" cy="388.82" r="6.20" fill="#000"/>
<circle cx="356.40" cy="414.64" r="6.20" fill="#000"/>
<circle cx="331.10" cy="440.46" r="6.20" fill="#000"/>
<circle cx="300.40" cy="466.29" r="6.20" fill="#000"/>
<circle cx="294.00" cy="492.11" r="6.20" fill="#000"/>
<circle cx="292.90" cy="517.94" r="6.20" fill="#000"/>
<circle cx="275.70" cy="543.76" r="6.20" fill="#000"/>
<circle cx="294.60" cy="569.58" r="6.20" fill="#000"/>
<circle cx="321.70" cy="595.41" r="6.20" fill="#000"/>
<circle cx="341.00" cy="621.23" r="6.20" fill="#000"/>
<circle cx="353.60" cy="647.06" r="6.20" fill="#000"/>
<circle cx="347.00" cy="672.88" r="6.20" fill="#000"/>
<circle cx="352.90" cy="698.70" r="6.20" fill="#000"/>
<circle cx="370.30" cy="724.53" r="6.20" fill="#000"/>
<circle cx="392.10" cy="750.35" r="6.20" fill="#000"/>
<circle cx="370.90" cy="776.18" r="6.20" fill="#000"/>
<circle cx="380.70" cy="802.00" r="6.20" fill="#000"/>
<circle cx="346.40" cy="827.82" r="6.20" fill="#000"/>
<circle cx="327.10" cy="853.65" r="6.20" fill="#000"/>
<polyline points="685.00,156.40 662.90,182.22 665.40,208.05 738.60,233.87 702.10,259.70 735.70,285.52 640.70,311.34 747.90,337.17 676.40,362.99 695.70,388.82 679.70,414.64 703.90,440.46 705.00,466.29 706.90,492.11 645.30,517.94 654.30,543.76 675.70,569.58 601.90,595.41 609.30,621.23 575.40,647.06 563.90,672.88 629.60,698.70 582.10,724.53 586.40,750.35 587.10,776.18 575.00,802.00 620.00,827.82 598.10,853.65" fill="none" stroke="#ff0000" stroke-width="3.40" stroke-linejoin="round"/>
<circle cx="685.00" cy="156.40" r="6.20" fill="#ff0000"/>
<circle cx="662.90" cy="182.22" r="6.20" fill="#ff0000"/>
<circle cx="665.40" cy="208.05" r="6.20" fill="#ff0000"/>
<circle cx="738.60" cy="233.87" r="6.20" fill="#ff0000"/>
<circle cx="702.10" cy="259.70" r="6.20" fill="#ff0000"/>
<circle cx="735.70" cy="285.52" r="6.20" fill="#ff0000"/>
<circle cx="640.70" cy="311.34" r="6.20" fill="#ff0000"/>
<circle cx="747.90" cy="337.17" r="6.20" fill="#ff0000"/>
<circle cx="676.40" cy="362.99" r="6.20" fill="#ff0000"/>
<circle cx="695.70" cy="388.82" r="6.20" fill="#ff0000"/>
<circle cx="679.70" cy="414.64" r="6.20" fill="#ff0000"/>
<circle cx="703.90" cy="440.46" r="6.20" fill="#ff0000"/>
<circle cx="705.00" cy="466.29" r="6.20" fill="#ff0000"/>
<circle cx="706.90" cy="492.11" r="6.20" fill="#ff0000"/>
<circle cx="645.30" cy="517.94" r="6.20" fill="#ff0000"/>
<circle cx="654.30" cy="543.76" r="6.20" fill="#ff0000"/>
<circle cx="675.70" cy="569.58" r="6.20" fill="#ff0000"/>
<circle cx="601.90" cy="595.41" r="6.20" fill="#ff0000"/>
<circle cx="609.30" cy="621.23" r="6.20" fill="#ff0000"/>
<circle cx="575.40" cy="647.06" r="6.20" fill="#ff0000"/>
<circle cx="563.90" cy="672.88" r="6.20" fill="#ff0000"/>
<circle cx="629.60" cy="698.70" r="6.20" fill="#ff0000"/>
<circle cx="582.10" cy="724.53" r="6.20" fill="#ff0000"/>
<circle cx="586.40" cy="750.35" r="6.20" fill="#ff0000"/>
<circle cx="587.10" cy="776.18" r="6.20" fill="#ff0000"/>
<circle cx="575.00" cy="802.00" r="6.20" fill="#ff0000"/>
<circle cx="620.00" cy="827.82" r="6.20" fill="#ff0000"/>
<circle cx="598.10" cy="853.65" r="6.20" fill="#ff0000"/>
<polyline points="658.40,156.40 647.60,182.22 681.10,208.05 763.10,233.87 693.30,259.70 767.90,285.52 651.90,311.34 751.10,337.17 736.90,362.99 740.30,388.82 750.70,414.64 730.30,440.46 718.60,466.29 686.40,492.11 681.70,517.94 680.40,543.76 672.40,569.58 615.70,595.41 602.90,621.23 595.40,647.06 591.70,672.88 587.60,698.70 575.40,724.53 580.30,750.35 583.60,776.18 585.70,802.00 588.90,827.82 586.70,853.65" fill="none" stroke="#000" stroke-width="3.40" stroke-linejoin="round"/>
<circle cx="658.40" cy="156.40" r="6.20" fill="#000"/>
<circle cx="647.60" cy="182.22" r="6.20" fill="#000"/>
<circle cx="681.10" cy="208.05" r="6.20" fill="#000"/>
<circle cx="763.10" cy="233.87" r="6.20" fill="#000"/>
<circle cx="693.30" cy="259.70" r="6.20" fill="#000"/>
<circle cx="767.90" cy="285.52" r="6.20" fill="#000"/>
<circle cx="651.90" cy="311.34" r="6.20" fill="#000"/>
<circle cx="751.10" cy="337.17" r="6.20" fill="#000"/>
<circle cx="736.90" cy="362.99" r="6.20" fill="#000"/>
<circle cx="740.30" cy="388.82" r="6.20" fill="#000"/>
<circle cx="750.70" cy="414.64" r="6.20" fill="#000"/>
<circle cx="730.30" cy="440.46" r="6.20" fill="#000"/>
<circle cx="718.60" cy="466.29" r="6.20" fill="#000"/>
<circle cx="686.40" cy="492.11" r="6.20" fill="#000"/>
<circle cx="681.70" cy="517.94" r="6.20" fill="#000"/>
<circle cx="680.40" cy="543.76" r="6.20" fill="#000"/>
<circle cx="672.40" cy="569.58" r="6.20" fill="#000"/>
<circle cx="615.70" cy="595.41" r="6.20" fill="#000"/>
<circle cx="602.90" cy="621.23" r="6.20" fill="#000"/>
<circle cx="595.40" cy="647.06" r="6.20" fill="#000"/>
<circle cx="591.70" cy="672.88" r="6.20" fill="#000"/>
<circle cx="587.60" cy="698.70" r="6.20" fill="#000"/>
<circle cx="575.40" cy="724.53" r="6.20" fill="#000"/>
<circle cx="580.30" cy="750.35" r="6.20" fill="#000"/>
<circle cx="583.60" cy="776.18" r="6.20" fill="#000"/>
<circle cx="585.70" cy="802.00" r="6.20" fill="#000"/>
<circle cx="588.90" cy="827.82" r="6.20" fill="#000"/>
<circle cx="586.70" cy="853.65" r="6.20" fill="#000"/>
<polyline points="1074.10,156.40 1078.70,182.22 1073.60,208.05 1083.20,233.87 1088.50,259.70 1065.10,285.52 1097.10,311.34 1097.10,337.17 1064.10,362.99 1103.80,388.82 1055.50,414.64 1087.10,440.46 1089.90,466.29 1094.00,492.11 1056.20,517.94 1080.40,543.76 1093.00,569.58 988.60,595.41 1062.30,621.23 884.80,647.06 992.60,672.88 1030.50,698.70 1014.10,724.53 1028.10,750.35 1048.60,776.18 953.60,802.00 1052.30,827.82 1082.50,853.65" fill="none" stroke="#ff0000" stroke-width="3.40" stroke-linejoin="round"/>
<circle cx="1074.10" cy="156.40" r="6.20" fill="#ff0000"/>
<circle cx="1078.70" cy="182.22" r="6.20" fill="#ff0000"/>
<circle cx="1073.60" cy="208.05" r="6.20" fill="#ff0000"/>
<circle cx="1083.20" cy="233.87" r="6.20" fill="#ff0000"/>
<circle cx="1088.50" cy="259.70" r="6.20" fill="#ff0000"/>
<circle cx="1065.10" cy="285.52" r="6.20" fill="#ff0000"/>
<circle cx="1097.10" cy="311.34" r="6.20" fill="#ff0000"/>
<circle cx="1097.10" cy="337.17" r="6.20" fill="#ff0000"/>
<circle cx="1064.10" cy="362.99" r="6.20" fill="#ff0000"/>
<circle cx="1103.80" cy="388.82" r="6.20" fill="#ff0000"/>
<circle cx="1055.50" cy="414.64" r="6.20" fill="#ff0000"/>
<circle cx="1087.10" cy="440.46" r="6.20" fill="#ff0000"/>
<circle cx="1089.90" cy="466.29" r="6.20" fill="#ff0000"/>
<circle cx="1094.00" cy="492.11" r="6.20" fill="#ff0000"/>
<circle cx="1056.20" cy="517.94" r="6.20" fill="#ff0000"/>
<circle cx="1080.40" cy="543.76" r="6.20" fill="#ff0000"/>
<circle cx="1093.00" cy="569.58" r="6.20" fill="#ff0000"/>
<circle cx="988.60" cy="595.41" r="6.20" fill="#ff0000"/>
<circle cx="1062.30" cy="621.23" r="6.20" fill="#ff0000"/>
<circle cx="884.80" cy="647.06" r="6.20" fill="#ff0000"/>
<circle cx="992.60" cy="672.88" r="6.20" fill="#ff0000"/>
<circle cx="1030.50" cy="698.70" r="6.20" fill="#ff0000"/>
<circle cx="1014.10" cy="724.53" r="6.20" fill="#ff0000"/>
<circle cx="1028.10" cy="750.35" r="6.20" fill="#ff0000"/>
<circle cx="1048.60" cy="776.18" r="6.20" fill="#ff0000"/>
<circle cx="953.60" cy="802.00" r="6.20" fill="#ff0000"/>
<circle cx="1052.30" cy="827.82" r="6.20" fill="#ff0000"/>
<circle cx="1082.50" cy="853.65" r="6.20" fill="#ff0000"/>
<polyline points="1090.20,156.40 1092.40,182.22 1093.00,208.05 1093.40,233.87 1089.20,259.70 1098.70,285.52 1096.40,311.34 1108.00,337.17 1104.20,362.99 1110.50,388.82 1105.50,414.64 1106.60,440.46 1100.30,466.29 1094.10,492.11 1085.70,517.94 1093.40,543.76 1084.20,569.58 1087.40,595.41 1061.20,621.23 1063.00,647.06 1064.00,672.88 1058.20,698.70 1062.30,724.53 1055.20,750.35 1066.60,776.18 1061.80,802.00 1054.40,827.82 1073.80,853.65" fill="none" stroke="#000" stroke-width="3.40" stroke-linejoin="round"/>
<circle cx="1090.20" cy="156.40" r="6.20" fill="#000"/>
<circle cx="1092.40" cy="182.22" r="6.20" fill="#000"/>
<circle cx="1093.00" cy="208.05" r="6.20" fill="#000"/>
<circle cx="1093.40" cy="233.87" r="6.20" fill="#000"/>
<circle cx="1089.20" cy="259.70" r="6.20" fill="#000"/>
<circle cx="1098.70" cy="285.52" r="6.20" fill="#000"/>
<circle cx="1096.40" cy="311.34" r="6.20" fill="#000"/>
<circle cx="1108.00" cy="337.17" r="6.20" fill="#000"/>
<circle cx="1104.20" cy="362.99" r="6.20" fill="#000"/>
<circle cx="1110.50" cy="388.82" r="6.20" fill="#000"/>
<circle cx="1105.50" cy="414.64" r="6.20" fill="#000"/>
<circle cx="1106.60" cy="440.46" r="6.20" fill="#000"/>
<circle cx="1100.30" cy="466.29" r="6.20" fill="#000"/>
<circle cx="1094.10" cy="492.11" r="6.20" fill="#000"/>
<circle cx="1085.70" cy="517.94" r="6.20" fill="#000"/>
<circle cx="1093.40" cy="543.76" r="6.20" fill="#000"/>
<circle cx="1084.20" cy="569.58" r="6.20" fill="#000"/>
<circle cx="1087.40" cy="595.41" r="6.20" fill="#000"/>
<circle cx="1061.20" cy="621.23" r="6.20" fill="#000"/>
<circle cx="1063.00" cy="647.06" r="6.20" fill="#000"/>
<circle cx="1064.00" cy="672.88" r="6.20" fill="#000"/>
<circle cx="1058.20" cy="698.70" r="6.20" fill="#000"/>
<circle cx="1062.30" cy="724.53" r="6.20" fill="#000"/>
<circle cx="1055.20" cy="750.35" r="6.20" fill="#000"/>
<circle cx="1066.60" cy="776.18" r="6.20" fill="#000"/>
<circle cx="1061.80" cy="802.00" r="6.20" fill="#000"/>
<circle cx="1054.40" cy="827.82" r="6.20" fill="#000"/>
<circle cx="1073.80" cy="853.65" r="6.20" fill="#000"/>
<polyline points="1375.20,156.40 1361.80,182.22 1338.50,208.05 1350.50,233.87 1364.40,259.70 1346.20,285.52 1331.80,311.34 1364.80,337.17 1316.10,362.99 1329.90,388.82 1312.50,414.64 1342.00,440.46 1350.10,466.29 1374.70,492.11 1318.10,517.94 1327.30,543.76 1354.80,569.58 1312.80,595.41 1334.10,621.23 1290.10,647.06 1282.10,672.88 1383.70,698.70 1316.00,724.53 1320.30,750.35 1317.90,776.18 1297.10,802.00 1366.70,827.82 1334.10,853.65" fill="none" stroke="#000" stroke-width="3.40" stroke-linejoin="round"/>
<circle cx="1375.20" cy="156.40" r="6.20" fill="#000"/>
<circle cx="1361.80" cy="182.22" r="6.20" fill="#000"/>
<circle cx="1338.50" cy="208.05" r="6.20" fill="#000"/>
<circle cx="1350.50" cy="233.87" r="6.20" fill="#000"/>
<circle cx="1364.40" cy="259.70" r="6.20" fill="#000"/>
<circle cx="1346.20" cy="285.52" r="6.20" fill="#000"/>
<circle cx="1331.80" cy="311.34" r="6.20" fill="#000"/>
<circle cx="1364.80" cy="337.17" r="6.20" fill="#000"/>
<circle cx="1316.10" cy="362.99" r="6.20" fill="#000"/>
<circle cx="1329.90" cy="388.82" r="6.20" fill="#000"/>
<circle cx="1312.50" cy="414.64" r="6.20" fill="#000"/>
<circle cx="1342.00" cy="440.46" r="6.20" fill="#000"/>
<circle cx="1350.10" cy="466.29" r="6.20" fill="#000"/>
<circle cx="1374.70" cy="492.11" r="6.20" fill="#000"/>
<circle cx="1318.10" cy="517.94" r="6.20" fill="#000"/>
<circle cx="1327.30" cy="543.76" r="6.20" fill="#000"/>
<circle cx="1354.80" cy="569.58" r="6.20" fill="#000"/>
<circle cx="1312.80" cy="595.41" r="6.20" fill="#000"/>
<circle cx="1334.10" cy="621.23" r="6.20" fill="#000"/>
<circle cx="1290.10" cy="647.06" r="6.20" fill="#000"/>
<circle cx="1282.10" cy="672.88" r="6.20" fill="#000"/>
<circle cx="1383.70" cy="698.70" r="6.20" fill="#000"/>
<circle cx="1316.00" cy="724.53" r="6.20" fill="#000"/>
<circle cx="1320.30" cy="750.35" r="6.20" fill="#000"/>
<circle cx="1317.90" cy="776.18" r="6.20" fill="#000"/>
<circle cx="1297.10" cy="802.00" r="6.20" fill="#000"/>
<circle cx="1366.70" cy="827.82" r="6.20" fill="#000"/>
<circle cx="1334.10" cy="853.65" r="6.20" fill="#000"/>
<polyline points="1646.10,156.40 1637.50,182.22 1592.20,208.05 1602.60,233.87 1617.40,259.70 1560.40,285.52 1550.60,311.34 1612.00,337.17 1568.00,362.99 1585.50,388.82 1587.00,414.64 1625.00,440.46 1671.90,466.29 1687.10,492.11 1628.00,517.94 1674.10,543.76 1655.40,569.58 1559.70,595.41 1553.30,621.23 1527.50,647.06 1522.40,672.88 1559.70,698.70 1525.30,724.53 1523.00,750.35 1528.70,776.18 1520.50,802.00 1557.40,827.82 1553.30,853.65" fill="none" stroke="#000" stroke-width="3.40" stroke-linejoin="round"/>
<circle cx="1646.10" cy="156.40" r="6.20" fill="#000"/>
<circle cx="1637.50" cy="182.22" r="6.20" fill="#000"/>
<circle cx="1592.20" cy="208.05" r="6.20" fill="#000"/>
<circle cx="1602.60" cy="233.87" r="6.20" fill="#000"/>
<circle cx="1617.40" cy="259.70" r="6.20" fill="#000"/>
<circle cx="1560.40" cy="285.52" r="6.20" fill="#000"/>
<circle cx="1550.60" cy="311.34" r="6.20" fill="#000"/>
<circle cx="1612.00" cy="337.17" r="6.20" fill="#000"/>
<circle cx="1568.00" cy="362.99" r="6.20" fill="#000"/>
<circle cx="1585.50" cy="388.82" r="6.20" fill="#000"/>
<circle cx="1587.00" cy="414.64" r="6.20" fill="#000"/>
<circle cx="1625.00" cy="440.46" r="6.20" fill="#000"/>
<circle cx="1671.90" cy="466.29" r="6.20" fill="#000"/>
<circle cx="1687.10" cy="492.11" r="6.20" fill="#000"/>
<circle cx="1628.00" cy="517.94" r="6.20" fill="#000"/>
<circle cx="1674.10" cy="543.76" r="6.20" fill="#000"/>
<circle cx="1655.40" cy="569.58" r="6.20" fill="#000"/>
<circle cx="1559.70" cy="595.41" r="6.20" fill="#000"/>
<circle cx="1553.30" cy="621.23" r="6.20" fill="#000"/>
<circle cx="1527.50" cy="647.06" r="6.20" fill="#000"/>
<circle cx="1522.40" cy="672.88" r="6.20" fill="#000"/>
<circle cx="1559.70" cy="698.70" r="6.20" fill="#000"/>
<circle cx="1525.30" cy="724.53" r="6.20" fill="#000"/>
<circle cx="1523.00" cy="750.35" r="6.20" fill="#000"/>
<circle cx="1528.70" cy="776.18" r="6.20" fill="#000"/>
<circle cx="1520.50" cy="802.00" r="6.20" fill="#000"/>
<circle cx="1557.40" cy="827.82" r="6.20" fill="#000"/>
<circle cx="1553.30" cy="853.65" r="6.20" fill="#000"/>
<polyline points="340.90,1197.40 338.60,1201.30 324.80,1225.10 325.90,1237.10 339.60,1252.70 346.20,1256.80 352.40,1276.40 348.10,1284.30 347.10,1308.00 351.30,1324.10 448.90,1347.50 474.80,1363.40 481.90,1379.00 432.20,1402.80 415.80,1426.30 355.60,1442.30 382.50,1465.80 391.90,1489.60 360.40,1513.00 300.80,1521.00 333.30,1537.00 328.80,1552.80 376.80,1568.70 329.50,1584.40 350.00,1592.30 313.50,1631.60 306.50,1655.40 310.60,1679.00 299.80,1687.00 297.00,1718.40 298.50,1726.50 292.80,1734.40 304.60,1750.20 300.40,1781.50 302.70,1813.10 319.70,1829.00" fill="none" stroke="#000" stroke-width="3.40" stroke-linejoin="round"/>
<circle cx="340.90" cy="1197.40" r="6.20" fill="#000"/>
<circle cx="338.60" cy="1201.30" r="6.20" fill="#000"/>
<circle cx="324.80" cy="1225.10" r="6.20" fill="#000"/>
<circle cx="325.90" cy="1237.10" r="6.20" fill="#000"/>
<circle cx="339.60" cy="1252.70" r="6.20" fill="#000"/>
<circle cx="346.20" cy="1256.80" r="6.20" fill="#000"/>
<circle cx="352.40" cy="1276.40" r="6.20" fill="#000"/>
<circle cx="348.10" cy="1284.30" r="6.20" fill="#000"/>
<circle cx="347.10" cy="1308.00" r="6.20" fill="#000"/>
<circle cx="351.30" cy="1324.10" r="6.20" fill="#000"/>
<circle cx="448.90" cy="1347.50" r="6.20" fill="#000"/>
<circle cx="474.80" cy="1363.40" r="6.20" fill="#000"/>
<circle cx="481.90" cy="1379.00" r="6.20" fill="#000"/>
<circle cx="432.20" cy="1402.80" r="6.20" fill="#000"/>
<circle cx="415.80" cy="1426.30" r="6.20" fill="#000"/>
<circle cx="355.60" cy="1442.30" r="6.20" fill="#000"/>
<circle cx="382.50" cy="1465.80" r="6.20" fill="#000"/>
<circle cx="391.90" cy="1489.60" r="6.20" fill="#000"/>
<circle cx="360.40" cy="1513.00" r="6.20" fill="#000"/>
<circle cx="300.80" cy="1521.00" r="6.20" fill="#000"/>
<circle cx="333.30" cy="1537.00" r="6.20" fill="#000"/>
<circle cx="328.80" cy="1552.80" r="6.20" fill="#000"/>
<circle cx="376.80" cy="1568.70" r="6.20" fill="#000"/>
<circle cx="329.50" cy="1584.40" r="6.20" fill="#000"/>
<circle cx="350.00" cy="1592.30" r="6.20" fill="#000"/>
<circle cx="313.50" cy="1631.60" r="6.20" fill="#000"/>
<circle cx="306.50" cy="1655.40" r="6.20" fill="#000"/>
<circle cx="310.60" cy="1679.00" r="6.20" fill="#000"/>
<circle cx="299.80" cy="1687.00" r="6.20" fill="#000"/>
<circle cx="297.00" cy="1718.40" r="6.20" fill="#000"/>
<circle cx="298.50" cy="1726.50" r="6.20" fill="#000"/>
<circle cx="292.80" cy="1734.40" r="6.20" fill="#000"/>
<circle cx="304.60" cy="1750.20" r="6.20" fill="#000"/>
<circle cx="300.40" cy="1781.50" r="6.20" fill="#000"/>
<circle cx="302.70" cy="1813.10" r="6.20" fill="#000"/>
<circle cx="319.70" cy="1829.00" r="6.20" fill="#000"/>
<polyline points="768.60,1197.40 692.90,1201.30 670.40,1225.10 667.40,1237.10 745.70,1252.70 751.90,1256.80 624.60,1276.40 689.60,1284.30 752.60,1308.00 710.70,1324.10 687.90,1347.50 685.30,1363.40 712.90,1379.00 657.10,1402.80 624.70,1426.30 623.60,1442.30 597.60,1465.80 624.30,1489.60 596.40,1513.00 596.40,1521.00 613.60,1537.00 667.10,1552.80 692.10,1568.70 710.70,1584.40 732.10,1592.30 704.60,1631.60 756.40,1655.40 745.40,1679.00 721.40,1687.00 735.70,1718.40 685.00,1726.50 739.30,1734.40 697.60,1750.20 699.30,1781.50 706.40,1813.10 715.00,1829.00" fill="none" stroke="#ff0000" stroke-width="3.40" stroke-linejoin="round"/>
<circle cx="768.60" cy="1197.40" r="6.20" fill="#ff0000"/>
<circle cx="692.90" cy="1201.30" r="6.20" fill="#ff0000"/>
<circle cx="670.40" cy="1225.10" r="6.20" fill="#ff0000"/>
<circle cx="667.40" cy="1237.10" r="6.20" fill="#ff0000"/>
<circle cx="745.70" cy="1252.70" r="6.20" fill="#ff0000"/>
<circle cx="751.90" cy="1256.80" r="6.20" fill="#ff0000"/>
<circle cx="624.60" cy="1276.40" r="6.20" fill="#ff0000"/>
<circle cx="689.60" cy="1284.30" r="6.20" fill="#ff0000"/>
<circle cx="752.60" cy="1308.00" r="6.20" fill="#ff0000"/>
<circle cx="710.70" cy="1324.10" r="6.20" fill="#ff0000"/>
<circle cx="687.90" cy="1347.50" r="6.20" fill="#ff0000"/>
<circle cx="685.30" cy="1363.40" r="6.20" fill="#ff0000"/>
<circle cx="712.90" cy="1379.00" r="6.20" fill="#ff0000"/>
<circle cx="657.10" cy="1402.80" r="6.20" fill="#ff0000"/>
<circle cx="624.70" cy="1426.30" r="6.20" fill="#ff0000"/>
<circle cx="623.60" cy="1442.30" r="6.20" fill="#ff0000"/>
<circle cx="597.60" cy="1465.80" r="6.20" fill="#ff0000"/>
<circle cx="624.30" cy="1489.60" r="6.20" fill="#ff0000"/>
<circle cx="596.40" cy="1513.00" r="6.20" fill="#ff0000"/>
<circle cx="596.40" cy="1521.00" r="6.20" fill="#ff0000"/>
<circle cx="613.60" cy="1537.00" r="6.20" fill="#ff0000"/>
<circle cx="667.10" cy="1552.80" r="6.20" fill="#ff0000"/>
<circle cx="692.10" cy="1568.70" r="6.20" fill="#ff0000"/>
<circle cx="710.70" cy="1584.40" r="6.20" fill="#ff0000"/>
<circle cx="732.10" cy="1592.30" r="6.20" fill="#ff0000"/>
<circle cx="704.60" cy="1631.60" r="6.20" fill="#ff0000"/>
<circle cx="756.40" cy="1655.40" r="6.20" fill="#ff0000"/>
<circle cx="745.40" cy="1679.00" r="6.20" fill="#ff0000"/>
<circle cx="721.40" cy="1687.00" r="6.20" fill="#ff0000"/>
<circle cx="735.70" cy="1718.40" r="6.20" fill="#ff0000"/>
<circle cx="685.00" cy="1726.50" r="6.20" fill="#ff0000"/>
<circle cx="739.30" cy="1734.40" r="6.20" fill="#ff0000"/>
<circle cx="697.60" cy="1750.20" r="6.20" fill="#ff0000"/>
<circle cx="699.30" cy="1781.50" r="6.20" fill="#ff0000"/>
<circle cx="706.40" cy="1813.10" r="6.20" fill="#ff0000"/>
<circle cx="715.00" cy="1829.00" r="6.20" fill="#ff0000"/>
<polyline points="700.30,1197.40 707.10,1201.30 695.70,1225.10 692.90,1237.10 680.00,1252.70 690.40,1256.80 721.40,1276.40 703.30,1284.30 721.90,1308.00 703.10,1324.10 783.60,1347.50 770.40,1363.40 713.60,1379.00 715.00,1402.80 692.40,1426.30 672.10,1442.30 718.30,1465.80 747.90,1489.60 610.00,1513.00 584.30,1521.00 727.90,1537.00 765.40,1552.80 737.10,1568.70 717.90,1584.40 741.10,1592.30 743.90,1631.60 778.60,1655.40 720.70,1679.00 717.10,1687.00 698.60,1718.40 710.00,1726.50 698.60,1734.40 704.00,1750.20 707.90,1781.50 693.60,1813.10 667.40,1829.00" fill="none" stroke="#000" stroke-width="3.40" stroke-linejoin="round"/>
<circle cx="700.30" cy="1197.40" r="6.20" fill="#000"/>
<circle cx="707.10" cy="1201.30" r="6.20" fill="#000"/>
<circle cx="695.70" cy="1225.10" r="6.20" fill="#000"/>
<circle cx="692.90" cy="1237.10" r="6.20" fill="#000"/>
<circle cx="680.00" cy="1252.70" r="6.20" fill="#000"/>
<circle cx="690.40" cy="1256.80" r="6.20" fill="#000"/>
<circle cx="721.40" cy="1276.40" r="6.20" fill="#000"/>
<circle cx="703.30" cy="1284.30" r="6.20" fill="#000"/>
<circle cx="721.90" cy="1308.00" r="6.20" fill="#000"/>
<circle cx="703.10" cy="1324.10" r="6.20" fill="#000"/>
<circle cx="783.60" cy="1347.50" r="6.20" fill="#000"/>
<circle cx="770.40" cy="1363.40" r="6.20" fill="#000"/>
<circle cx="713.60" cy="1379.00" r="6.20" fill="#000"/>
<circle cx="715.00" cy="1402.80" r="6.20" fill="#000"/>
<circle cx="692.40" cy="1426.30" r="6.20" fill="#000"/>
<circle cx="672.10" cy="1442.30" r="6.20" fill="#000"/>
<circle cx="718.30" cy="1465.80" r="6.20" fill="#000"/>
<circle cx="747.90" cy="1489.60" r="6.20" fill="#000"/>
<circle cx="610.00" cy="1513.00" r="6.20" fill="#000"/>
<circle cx="584.30" cy="1521.00" r="6.20" fill="#000"/>
<circle cx="727.90" cy="1537.00" r="6.20" fill="#000"/>
<circle cx="765.40" cy="1552.80" r="6.20" fill="#000"/>
<circle cx="737.10" cy="1568.70" r="6.20" fill="#000"/>
<circle cx="717.90" cy="1584.40" r="6.20" fill="#000"/>
<circle cx="741.10" cy="1592.30" r="6.20" fill="#000"/>
<circle cx="743.90" cy="1631.60" r="6.20" fill="#000"/>
<circle cx="778.60" cy="1655.40" r="6.20" fill="#000"/>
<circle cx="720.70" cy="1679.00" r="6.20" fill="#000"/>
<circle cx="717.10" cy="1687.00" r="6.20" fill="#000"/>
<circle cx="698.60" cy="1718.40" r="6.20" fill="#000"/>
<circle cx="710.00" cy="1726.50" r="6.20" fill="#000"/>
<circle cx="698.60" cy="1734.40" r="6.20" fill="#000"/>
<circle cx="704.00" cy="1750.20" r="6.20" fill="#000"/>
<circle cx="707.90" cy="1781.50" r="6.20" fill="#000"/>
<circle cx="693.60" cy="1813.10" r="6.20" fill="#000"/>
<circle cx="667.40" cy="1829.00" r="6.20" fill="#000"/>
<polyline points="1004.40,1197.40 987.70,1201.30 998.40,1225.10 1015.30,1237.10 1004.90,1252.70 1005.60,1256.80 1053.40,1276.40 991.30,1284.30 1011.30,1308.00 984.60,1324.10 999.90,1347.50 1027.70,1363.40 1023.40,1379.00 1001.00,1402.80 979.10,1426.30 967.00,1442.30 962.70,1465.80 978.40,1489.60 943.40,1513.00 934.90,1521.00 923.40,1537.00 1070.60,1552.80 1021.30,1568.70 1023.40,1584.40 1042.30,1592.30 981.70,1631.60 1024.90,1655.40 1080.60,1679.00 1017.70,1687.00 1012.70,1718.40 996.30,1726.50 953.90,1734.40 980.60,1750.20 997.70,1781.50 992.70,1813.10 1000.60,1829.00" fill="none" stroke="#ff0000" stroke-width="3.40" stroke-linejoin="round"/>
<circle cx="1004.40" cy="1197.40" r="6.20" fill="#ff0000"/>
<circle cx="987.70" cy="1201.30" r="6.20" fill="#ff0000"/>
<circle cx="998.40" cy="1225.10" r="6.20" fill="#ff0000"/>
<circle cx="1015.30" cy="1237.10" r="6.20" fill="#ff0000"/>
<circle cx="1004.90" cy="1252.70" r="6.20" fill="#ff0000"/>
<circle cx="1005.60" cy="1256.80" r="6.20" fill="#ff0000"/>
<circle cx="1053.40" cy="1276.40" r="6.20" fill="#ff0000"/>
<circle cx="991.30" cy="1284.30" r="6.20" fill="#ff0000"/>
<circle cx="1011.30" cy="1308.00" r="6.20" fill="#ff0000"/>
<circle cx="984.60" cy="1324.10" r="6.20" fill="#ff0000"/>
<circle cx="999.90" cy="1347.50" r="6.20" fill="#ff0000"/>
<circle cx="1027.70" cy="1363.40" r="6.20" fill="#ff0000"/>
<circle cx="1023.40" cy="1379.00" r="6.20" fill="#ff0000"/>
<circle cx="1001.00" cy="1402.80" r="6.20" fill="#ff0000"/>
<circle cx="979.10" cy="1426.30" r="6.20" fill="#ff0000"/>
<circle cx="967.00" cy="1442.30" r="6.20" fill="#ff0000"/>
<circle cx="962.70" cy="1465.80" r="6.20" fill="#ff0000"/>
<circle cx="978.40" cy="1489.60" r="6.20" fill="#ff0000"/>
<circle cx="943.40" cy="1513.00" r="6.20" fill="#ff0000"/>
<circle cx="934.90" cy="1521.00" r="6.20" fill="#ff0000"/>
<circle cx="923.40" cy="1537.00" r="6.20" fill="#ff0000"/>
<circle cx="1070.60" cy="1552.80" r="6.20" fill="#ff0000"/>
<circle cx="1021.30" cy="1568.70" r="6.20" fill="#ff0000"/>
<circle cx="1023.40" cy="1584.40" r="6.20" fill="#ff0000"/>
<circle cx="1042.30" cy="1592.30" r="6.20" fill="#ff0000"/>
<circle cx="981.70" cy="1631.60" r="6.20" fill="#ff0000"/>
<circle cx="1024.90" cy="1655.40" r="6.20" fill="#ff0000"/>
<circle cx="1080.60" cy="1679.00" r="6.20" fill="#ff0000"/>
<circle cx="1017.70" cy="1687.00" r="6.20" fill="#ff0000"/>
<circle cx="1012.70" cy="1718.40" r="6.20" fill="#ff0000"/>
<circle cx="996.30" cy="1726.50" r="6.20" fill="#ff0000"/>
<circle cx="953.90" cy="1734.40" r="6.20" fill="#ff0000"/>
<circle cx="980.60" cy="1750.20" r="6.20" fill="#ff0000"/>
<circle cx="997.70" cy="1781.50" r="6.20" fill="#ff0000"/>
<circle cx="992.70" cy="1813.10" r="6.20" fill="#ff0000"/>
<circle cx="1000.60" cy="1829.00" r="6.20" fill="#ff0000"/>
<polyline points="995.90,1197.40 978.00,1201.30 979.10,1225.10 985.10,1237.10 991.30,1252.70 991.70,1256.80 977.40,1276.40 997.70,1284.30 1007.40,1308.00 990.60,1324.10 993.10,1347.50 985.60,1363.40 984.60,1379.00 968.40,1402.80 971.60,1426.30 969.90,1442.30 939.90,1465.80 983.00,1489.60 975.30,1513.00 968.40,1521.00 908.40,1537.00 1007.40,1552.80 1009.10,1568.70 1015.90,1584.40 1021.70,1592.30 1006.70,1631.60 1013.90,1655.40 1010.10,1679.00 995.60,1687.00 1011.00,1718.40 993.90,1726.50 998.90,1734.40 981.30,1750.20 998.70,1781.50 992.30,1813.10 999.90,1829.00" fill="none" stroke="#000" stroke-width="3.40" stroke-linejoin="round"/>
<circle cx="995.90" cy="1197.40" r="6.20" fill="#000"/>
<circle cx="978.00" cy="1201.30" r="6.20" fill="#000"/>
<circle cx="979.10" cy="1225.10" r="6.20" fill="#000"/>
<circle cx="985.10" cy="1237.10" r="6.20" fill="#000"/>
<circle cx="991.30" cy="1252.70" r="6.20" fill="#000"/>
<circle cx="991.70" cy="1256.80" r="6.20" fill="#000"/>
<circle cx="977.40" cy="1276.40" r="6.20" fill="#000"/>
<circle cx="997.70" cy="1284.30" r="6.20" fill="#000"/>
<circle cx="1007.40" cy="1308.00" r="6.20" fill="#000"/>
<circle cx="990.60" cy="1324.10" r="6.20" fill="#000"/>
<circle cx="993.10" cy="1347.50" r="6.20" fill="#000"/>
<circle cx="985.60" cy="1363.40" r="6.20" fill="#000"/>
<circle cx="984.60" cy="1379.00" r="6.20" fill="#000"/>
<circle cx="968.40" cy="1402.80" r="6.20" fill="#000"/>
<circle cx="971.60" cy="1426.30" r="6.20" fill="#000"/>
<circle cx="969.90" cy="1442.30" r="6.20" fill="#000"/>
<circle cx="939.90" cy="1465.80" r="6.20" fill="#000"/>
<circle cx="983.00" cy="1489.60" r="6.20" fill="#000"/>
<circle cx="975.30" cy="1513.00" r="6.20" fill="#000"/>
<circle cx="968.40" cy="1521.00" r="6.20" fill="#000"/>
<circle cx="908.40" cy="1537.00" r="6.20" fill="#000"/>
<circle cx="1007.40" cy="1552.80" r="6.20" fill="#000"/>
<circle cx="1009.10" cy="1568.70" r="6.20" fill="#000"/>
<circle cx="1015.90" cy="1584.40" r="6.20" fill="#000"/>
<circle cx="1021.70" cy="1592.30" r="6.20" fill="#000"/>
<circle cx="1006.70" cy="1631.60" r="6.20" fill="#000"/>
<circle cx="1013.90" cy="1655.40" r="6.20" fill="#000"/>
<circle cx="1010.10" cy="1679.00" r="6.20" fill="#000"/>
<circle cx="995.60" cy="1687.00" r="6.20" fill="#000"/>
<circle cx="1011.00" cy="1718.40" r="6.20" fill="#000"/>
<circle cx="993.90" cy="1726.50" r="6.20" fill="#000"/>
<circle cx="998.90" cy="1734.40" r="6.20" fill="#000"/>
<circle cx="981.30" cy="1750.20" r="6.20" fill="#000"/>
<circle cx="998.70" cy="1781.50" r="6.20" fill="#000"/>
<circle cx="992.30" cy="1813.10" r="6.20" fill="#000"/>
<circle cx="999.90" cy="1829.00" r="6.20" fill="#000"/>
<polyline points="1409.60,1197.40 1317.90,1201.30 1303.90,1225.10 1302.40,1237.10 1417.70,1252.70 1406.40,1256.80 1238.50,1276.40 1318.10,1284.30 1362.30,1308.00 1341.50,1324.10 1266.10,1347.50 1269.30,1363.40 1332.30,1379.00 1274.00,1402.80 1252.60,1426.30 1264.60,1442.30 1213.10,1465.80 1229.20,1489.60 1289.10,1513.00 1407.30,1521.00 1226.20,1537.00 1257.60,1552.80 1293.30,1568.70 1326.00,1584.40 1326.00,1592.30 1299.50,1631.60 1317.10,1655.40 1356.60,1679.00 1337.00,1687.00 1375.60,1718.40 1306.50,1726.50 1379.00,1734.40 1326.00,1750.20 1323.60,1781.50 1347.20,1813.10 1402.60,1829.00" fill="none" stroke="#000" stroke-width="3.40" stroke-linejoin="round"/>
<circle cx="1409.60" cy="1197.40" r="6.20" fill="#000"/>
<circle cx="1317.90" cy="1201.30" r="6.20" fill="#000"/>
<circle cx="1303.90" cy="1225.10" r="6.20" fill="#000"/>
<circle cx="1302.40" cy="1237.10" r="6.20" fill="#000"/>
<circle cx="1417.70" cy="1252.70" r="6.20" fill="#000"/>
<circle cx="1406.40" cy="1256.80" r="6.20" fill="#000"/>
<circle cx="1238.50" cy="1276.40" r="6.20" fill="#000"/>
<circle cx="1318.10" cy="1284.30" r="6.20" fill="#000"/>
<circle cx="1362.30" cy="1308.00" r="6.20" fill="#000"/>
<circle cx="1341.50" cy="1324.10" r="6.20" fill="#000"/>
<circle cx="1266.10" cy="1347.50" r="6.20" fill="#000"/>
<circle cx="1269.30" cy="1363.40" r="6.20" fill="#000"/>
<circle cx="1332.30" cy="1379.00" r="6.20" fill="#000"/>
<circle cx="1274.00" cy="1402.80" r="6.20" fill="#000"/>
<circle cx="1252.60" cy="1426.30" r="6.20" fill="#000"/>
<circle cx="1264.60" cy="1442.30" r="6.20" fill="#000"/>
<circle cx="1213.10" cy="1465.80" r="6.20" fill="#000"/>
<circle cx="1229.20" cy="1489.60" r="6.20" fill="#000"/>
<circle cx="1289.10" cy="1513.00" r="6.20" fill="#000"/>
<circle cx="1407.30" cy="1521.00" r="6.20" fill="#000"/>
<circle cx="1226.20" cy="1537.00" r="6.20" fill="#000"/>
<circle cx="1257.60" cy="1552.80" r="6.20" fill="#000"/>
<circle cx="1293.30" cy="1568.70" r="6.20" fill="#000"/>
<circle cx="1326.00" cy="1584.40" r="6.20" fill="#000"/>
<circle cx="1326.00" cy="1592.30" r="6.20" fill="#000"/>
<circle cx="1299.50" cy="1631.60" r="6.20" fill="#000"/>
<circle cx="1317.10" cy="1655.40" r="6.20" fill="#000"/>
<circle cx="1356.60" cy="1679.00" r="6.20" fill="#000"/>
<circle cx="1337.00" cy="1687.00" r="6.20" fill="#000"/>
<circle cx="1375.60" cy="1718.40" r="6.20" fill="#000"/>
<circle cx="1306.50" cy="1726.50" r="6.20" fill="#000"/>
<circle cx="1379.00" cy="1734.40" r="6.20" fill="#000"/>
<circle cx="1326.00" cy="1750.20" r="6.20" fill="#000"/>
<circle cx="1323.60" cy="1781.50" r="6.20" fill="#000"/>
<circle cx="1347.20" cy="1813.10" r="6.20" fill="#000"/>
<circle cx="1402.60" cy="1829.00" r="6.20" fill="#000"/>
<polyline points="1586.40,1197.40 1551.20,1201.30 1549.90,1225.10 1547.00,1237.10 1575.80,1252.70 1572.60,1256.80 1511.50,1276.40 1542.70,1284.30 1572.00,1308.00 1549.90,1324.10 1511.70,1347.50 1507.90,1363.40 1512.40,1379.00 1506.90,1402.80 1500.70,1426.30 1509.80,1442.30 1496.00,1465.80 1503.20,1489.60 1497.90,1513.00 1515.80,1521.00 1512.40,1537.00 1544.20,1552.80 1530.00,1568.70 1568.80,1584.40 1560.80,1592.30 1586.40,1631.60 1642.00,1655.40 1622.10,1679.00 1631.20,1687.00 1654.80,1718.40 1601.30,1726.50 1674.70,1734.40 1598.10,1750.20 1608.50,1781.50 1609.40,1813.10 1583.90,1829.00" fill="none" stroke="#000" stroke-width="3.40" stroke-linejoin="round"/>
<circle cx="1586.40" cy="1197.40" r="6.20" fill="#000"/>
<circle cx="1551.20" cy="1201.30" r="6.20" fill="#000"/>
<circle cx="1549.90" cy="1225.10" r="6.20" fill="#000"/>
<circle cx="1547.00" cy="1237.10" r="6.20" fill="#000"/>
<circle cx="1575.80" cy="1252.70" r="6.20" fill="#000"/>
<circle cx="1572.60" cy="1256.80" r="6.20" fill="#000"/>
<circle cx="1511.50" cy="1276.40" r="6.20" fill="#000"/>
<circle cx="1542.70" cy="1284.30" r="6.20" fill="#000"/>
<circle cx="1572.00" cy="1308.00" r="6.20" fill="#000"/>
<circle cx="1549.90" cy="1324.10" r="6.20" fill="#000"/>
<circle cx="1511.70" cy="1347.50" r="6.20" fill="#000"/>
<circle cx="1507.90" cy="1363.40" r="6.20" fill="#000"/>
<circle cx="1512.40" cy="1379.00" r="6.20" fill="#000"/>
<circle cx="1506.90" cy="1402.80" r="6.20" fill="#000"/>
<circle cx="1500.70" cy="1426.30" r="6.20" fill="#000"/>
<circle cx="1509.80" cy="1442.30" r="6.20" fill="#000"/>
<circle cx="1496.00" cy="1465.80" r="6.20" fill="#000"/>
<circle cx="1503.20" cy="1489.60" r="6.20" fill="#000"/>
<circle cx="1497.90" cy="1513.00" r="6.20" fill="#000"/>
<circle cx="1515.80" cy="1521.00" r="6.20" fill="#000"/>
<circle cx="1512.40" cy="1537.00" r="6.20" fill="#000"/>
<circle cx="1544.20" cy="1552.80" r="6.20" fill="#000"/>
<circle cx="1530.00" cy="1568.70" r="6.20" fill="#000"/>
<circle cx="1568.80" cy="1584.40" r="6.20" fill="#000"/>
<circle cx="1560.80" cy="1592.30" r="6.20" fill="#000"/>
<circle cx="1586.40" cy="1631.60" r="6.20" fill="#000"/>
<circle cx="1642.00" cy="1655.40" r="6.20" fill="#000"/>
<circle cx="1622.10" cy="1679.00" r="6.20" fill="#000"/>
<circle cx="1631.20" cy="1687.00" r="6.20" fill="#000"/>
<circle cx="1654.80" cy="1718.40" r="6.20" fill="#000"/>
<circle cx="1601.30" cy="1726.50" r="6.20" fill="#000"/>
<circle cx="1674.70" cy="1734.40" r="6.20" fill="#000"/>
<circle cx="1598.10" cy="1750.20" r="6.20" fill="#000"/>
<circle cx="1608.50" cy="1781.50" r="6.20" fill="#000"/>
<circle cx="1609.40" cy="1813.10" r="6.20" fill="#000"/>
<circle cx="1583.90" cy="1829.00" r="6.20" fill="#000"/>
<text transform="translate(1604.01,700.00) scale(1.000,1.040)" font-size="39.50" fill="#663333">SMTZ</text>
<text transform="translate(1604.81,1478.20) scale(1.000,1.040)" font-size="39.50" fill="#663333">SMTZ</text>
</svg></body></html>
